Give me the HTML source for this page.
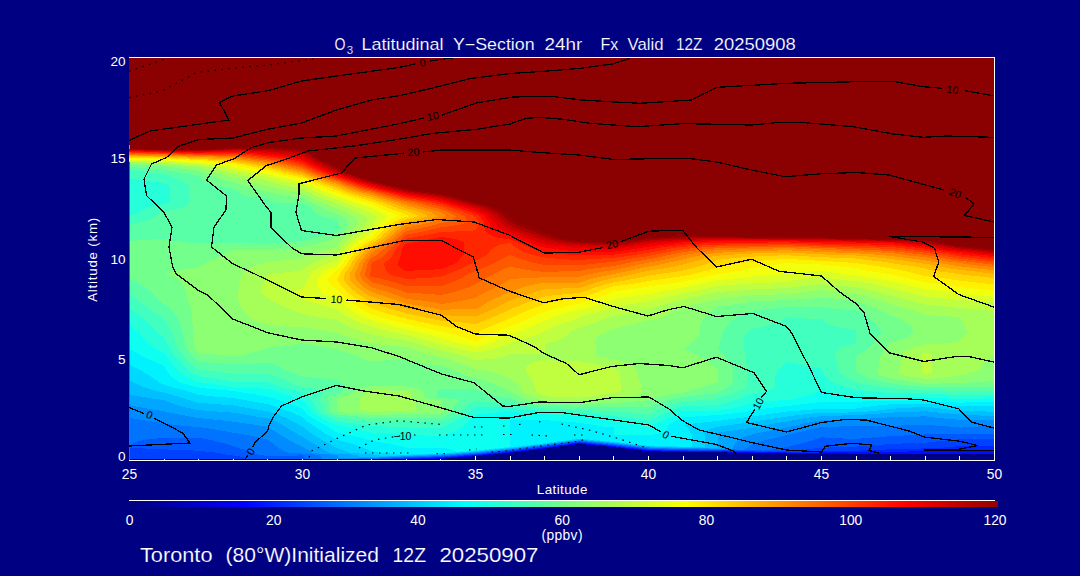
<!DOCTYPE html>
<html><head><meta charset="utf-8"><title>O3 Latitudinal Y-Section</title>
<style>
html,body{margin:0;padding:0;background:#000083;overflow:hidden}
svg{display:block}
text{font-family:"Liberation Sans",sans-serif;fill:#fff}
.t text.e{stroke:#000083;stroke-width:.15px}
</style></head><body>
<svg width="1080" height="576" viewBox="0 0 1080 576">
<defs><linearGradient id="cb" x1="0" x2="1" y1="0" y2="0"><stop offset="0.0000" stop-color="rgb(0,0,131)"/><stop offset="0.0069" stop-color="rgb(0,0,131)"/><stop offset="0.1335" stop-color="rgb(0,0,255)"/><stop offset="0.2601" stop-color="rgb(0,128,255)"/><stop offset="0.3867" stop-color="rgb(0,255,255)"/><stop offset="0.5132" stop-color="rgb(128,255,128)"/><stop offset="0.6398" stop-color="rgb(255,255,0)"/><stop offset="0.7664" stop-color="rgb(255,128,0)"/><stop offset="0.8930" stop-color="rgb(255,0,0)"/><stop offset="1.0000" stop-color="rgb(147,0,0)"/></linearGradient></defs>
<rect width="1080" height="576" fill="#000083"/>
<rect x="129" y="58" width="865" height="401" fill="#8b0000"/>
<g fill="none" stroke-width="1" shape-rendering="crispEdges"><path stroke="#000083" d="M575 444.5h11M568 445.5h28M560 446.5h47M553 447.5h63M545 448.5h80M537 449.5h97M529 450.5h113M521 451.5h140M513 452.5h215M503 453.5h284M493 454.5h501M483 455.5h511M472 456.5h522M458 457.5h536M445 458.5h549"/>
<path stroke="#0000f3" d="M579 443.5h1M572 444.5h3M586 444.5h4M564 445.5h4M596 445.5h5M557 446.5h3M607 446.5h4M549 447.5h4M616 447.5h4M542 448.5h3M625 448.5h4M534 449.5h3M634 449.5h4M525 450.5h4M642 450.5h4M517 451.5h4M661 451.5h20M509 452.5h4M728 452.5h22M498 453.5h5M787 453.5h61M488 454.5h5M478 455.5h5M465 456.5h7M452 457.5h6M436 458.5h9"/>
<path stroke="#000dff" d="M575 443.5h4M580 443.5h6M568 444.5h4M590 444.5h6M560 445.5h4M601 445.5h6M553 446.5h4M611 446.5h5M545 447.5h4M620 447.5h5M537 448.5h5M629 448.5h5M529 449.5h5M638 449.5h4M521 450.5h4M646 450.5h15M942 450.5h52M513 451.5h4M681 451.5h47M908 451.5h86M503 452.5h6M750 452.5h37M822 452.5h172M493 453.5h5M848 453.5h146M483 454.5h5M472 455.5h6M458 456.5h7M445 457.5h7M421 458.5h15"/>
<path stroke="#0026ff" d="M578 442.5h3M571 443.5h4M586 443.5h5M564 444.5h4M596 444.5h6M556 445.5h4M607 445.5h5M549 446.5h4M616 446.5h5M955 446.5h39M541 447.5h4M625 447.5h5M944 447.5h50M533 448.5h4M634 448.5h5M921 448.5h73M525 449.5h4M642 449.5h5M886 449.5h108M516 450.5h5M661 450.5h27M860 450.5h82M508 451.5h5M728 451.5h27M813 451.5h95M497 452.5h6M787 452.5h35M487 453.5h6M477 454.5h6M464 455.5h8M451 456.5h7M434 457.5h11M405 458.5h16"/>
<path stroke="#0040ff" d="M957 439.5h37M945 440.5h49M936 441.5h58M574 442.5h4M581 442.5h6M928 442.5h66M567 443.5h4M591 443.5h6M902 443.5h92M559 444.5h5M602 444.5h6M884 444.5h110M552 445.5h4M612 445.5h5M872 445.5h122M545 446.5h4M621 446.5h5M857 446.5h98M537 447.5h4M630 447.5h5M829 447.5h115M129 448.5h16M528 448.5h5M639 448.5h4M814 448.5h107M129 449.5h39M520 449.5h5M647 449.5h18M806 449.5h80M129 450.5h65M512 450.5h4M688 450.5h44M799 450.5h61M129 451.5h76M502 451.5h6M755 451.5h58M129 452.5h86M492 452.5h5M129 453.5h92M482 453.5h5M129 454.5h97M470 454.5h7M129 455.5h104M457 455.5h7M129 456.5h111M444 456.5h7M129 457.5h115M418 457.5h16M129 458.5h117M393 458.5h12"/>
<path stroke="#0059ff" d="M924 434.5h70M904 435.5h90M887 436.5h107M821 437.5h4M872 437.5h122M157 438.5h46M818 438.5h25M861 438.5h133M148 439.5h60M815 439.5h142M142 440.5h71M812 440.5h133M138 441.5h79M578 441.5h4M808 441.5h128M135 442.5h86M570 442.5h4M587 442.5h5M805 442.5h123M133 443.5h92M563 443.5h4M597 443.5h6M801 443.5h101M131 444.5h97M555 444.5h4M608 444.5h5M797 444.5h87M130 445.5h101M548 445.5h4M617 445.5h5M793 445.5h79M129 446.5h105M540 446.5h5M626 446.5h5M789 446.5h68M129 447.5h108M532 447.5h5M635 447.5h4M784 447.5h45M145 448.5h95M524 448.5h4M643 448.5h5M778 448.5h36M168 449.5h76M516 449.5h4M665 449.5h34M772 449.5h34M194 450.5h53M507 450.5h5M732 450.5h30M764 450.5h35M205 451.5h44M497 451.5h5M215 452.5h36M486 452.5h6M221 453.5h32M476 453.5h6M226 454.5h32M463 454.5h7M233 455.5h31M298 455.5h5M450 455.5h7M240 456.5h63M431 456.5h13M244 457.5h60M403 457.5h15M246 458.5h59M380 458.5h13"/>
<path stroke="#0073ff" d="M129 418.5h4M129 419.5h10M129 420.5h16M129 421.5h23M129 422.5h29M129 423.5h36M129 424.5h43M129 425.5h51M901 425.5h34M129 426.5h62M839 426.5h110M978 426.5h16M129 427.5h73M819 427.5h175M129 428.5h80M815 428.5h179M129 429.5h86M810 429.5h184M129 430.5h92M806 430.5h188M129 431.5h98M802 431.5h192M129 432.5h103M797 432.5h197M129 433.5h109M793 433.5h201M129 434.5h115M789 434.5h135M129 435.5h120M785 435.5h119M129 436.5h125M781 436.5h106M129 437.5h130M777 437.5h44M825 437.5h47M129 438.5h28M203 438.5h60M773 438.5h45M843 438.5h18M129 439.5h19M208 439.5h59M768 439.5h47M129 440.5h13M213 440.5h56M764 440.5h48M129 441.5h9M217 441.5h54M574 441.5h4M582 441.5h5M761 441.5h47M129 442.5h6M221 442.5h51M566 442.5h4M592 442.5h6M758 442.5h47M129 443.5h4M225 443.5h48M559 443.5h4M603 443.5h5M754 443.5h47M129 444.5h2M228 444.5h46M551 444.5h4M613 444.5h5M752 444.5h45M129 445.5h1M231 445.5h44M544 445.5h4M622 445.5h5M750 445.5h43M234 446.5h43M536 446.5h4M631 446.5h4M749 446.5h40M237 447.5h41M528 447.5h4M639 447.5h5M748 447.5h36M240 448.5h39M519 448.5h5M648 448.5h21M746 448.5h32M244 449.5h37M511 449.5h5M699 449.5h38M744 449.5h28M247 450.5h36M501 450.5h6M762 450.5h2M249 451.5h36M491 451.5h6M251 452.5h37M481 452.5h5M253 453.5h49M469 453.5h7M258 454.5h56M456 454.5h7M264 455.5h34M303 455.5h17M442 455.5h8M303 456.5h18M415 456.5h16M304 457.5h17M391 457.5h12M305 458.5h17M359 458.5h21"/>
<path stroke="#008cff" d="M129 405.5h2M129 406.5h7M129 407.5h13M129 408.5h18M129 409.5h24M129 410.5h30M129 411.5h36M129 412.5h40M129 413.5h45M129 414.5h50M129 415.5h56M129 416.5h61M920 416.5h7M129 417.5h66M887 417.5h48M133 418.5h70M870 418.5h74M139 419.5h74M840 419.5h116M145 420.5h78M820 420.5h174M152 421.5h80M814 421.5h180M158 422.5h81M809 422.5h185M165 423.5h81M804 423.5h190M172 424.5h81M800 424.5h194M180 425.5h79M796 425.5h105M935 425.5h59M191 426.5h75M791 426.5h48M949 426.5h29M202 427.5h67M786 427.5h33M209 428.5h61M781 428.5h34M215 429.5h57M776 429.5h34M221 430.5h53M771 430.5h35M227 431.5h48M766 431.5h36M232 432.5h45M761 432.5h36M238 433.5h40M756 433.5h37M244 434.5h36M752 434.5h37M249 435.5h32M748 435.5h37M254 436.5h29M745 436.5h36M259 437.5h26M743 437.5h34M263 438.5h23M741 438.5h32M267 439.5h21M739 439.5h29M269 440.5h21M577 440.5h6M738 440.5h26M271 441.5h21M570 441.5h4M587 441.5h6M737 441.5h24M272 442.5h22M562 442.5h4M598 442.5h6M736 442.5h22M273 443.5h22M555 443.5h4M608 443.5h6M735 443.5h19M274 444.5h23M547 444.5h4M618 444.5h5M735 444.5h17M275 445.5h25M540 445.5h4M627 445.5h4M734 445.5h16M277 446.5h25M531 446.5h5M635 446.5h5M733 446.5h16M278 447.5h26M523 447.5h5M644 447.5h6M733 447.5h15M279 448.5h26M515 448.5h4M669 448.5h40M732 448.5h14M281 449.5h26M506 449.5h5M737 449.5h7M283 450.5h26M496 450.5h5M285 451.5h26M485 451.5h6M288 452.5h24M475 452.5h6M302 453.5h17M462 453.5h7M314 454.5h17M449 454.5h7M320 455.5h17M429 455.5h13M321 456.5h17M401 456.5h14M321 457.5h18M378 457.5h13M322 458.5h37"/>
<path stroke="#00a6ff" d="M129 394.5h2M129 395.5h6M129 396.5h11M129 397.5h17M129 398.5h23M129 399.5h31M129 400.5h36M129 401.5h38M129 402.5h41M129 403.5h44M129 404.5h46M131 405.5h48M136 406.5h46M142 407.5h44M147 408.5h44M153 409.5h42M159 410.5h45M165 411.5h52M920 411.5h8M169 412.5h62M894 412.5h44M174 413.5h65M880 413.5h69M179 414.5h66M865 414.5h97M185 415.5h65M842 415.5h138M190 416.5h66M818 416.5h102M927 416.5h67M195 417.5h67M810 417.5h77M935 417.5h59M203 418.5h65M803 418.5h67M944 418.5h50M213 419.5h58M798 419.5h42M956 419.5h38M223 420.5h51M792 420.5h28M232 421.5h44M786 421.5h28M239 422.5h39M780 422.5h29M246 423.5h34M774 423.5h30M253 424.5h29M769 424.5h31M259 425.5h24M764 425.5h32M266 426.5h19M759 426.5h32M269 427.5h17M754 427.5h32M270 428.5h18M747 428.5h34M272 429.5h18M740 429.5h36M274 430.5h17M733 430.5h38M275 431.5h18M726 431.5h40M277 432.5h18M718 432.5h43M278 433.5h19M718 433.5h38M280 434.5h18M718 434.5h34M281 435.5h19M718 435.5h30M283 436.5h19M718 436.5h27M285 437.5h19M718 437.5h25M286 438.5h19M718 438.5h23M288 439.5h19M718 439.5h21M290 440.5h18M573 440.5h4M583 440.5h5M718 440.5h20M292 441.5h18M566 441.5h4M593 441.5h6M718 441.5h19M294 442.5h17M558 442.5h4M604 442.5h5M718 442.5h18M295 443.5h18M551 443.5h4M614 443.5h5M718 443.5h17M297 444.5h18M543 444.5h4M623 444.5h5M718 444.5h17M300 445.5h17M535 445.5h5M631 445.5h5M718 445.5h16M302 446.5h16M527 446.5h4M640 446.5h5M718 446.5h15M304 447.5h16M519 447.5h4M650 447.5h23M718 447.5h15M305 448.5h17M510 448.5h5M709 448.5h23M307 449.5h16M500 449.5h6M309 450.5h16M490 450.5h6M311 451.5h16M480 451.5h5M312 452.5h17M468 452.5h7M319 453.5h16M455 453.5h7M331 454.5h20M441 454.5h8M337 455.5h21M413 455.5h16M338 456.5h21M388 456.5h13M339 457.5h39"/>
<path stroke="#00bfff" d="M129 380.5h1M129 381.5h3M129 382.5h5M129 383.5h7M129 384.5h9M129 385.5h11M129 386.5h13M129 387.5h16M129 388.5h19M129 389.5h22M129 390.5h26M129 391.5h30M129 392.5h35M129 393.5h39M131 394.5h40M135 395.5h39M140 396.5h38M146 397.5h35M152 398.5h32M160 399.5h27M165 400.5h26M167 401.5h27M170 402.5h27M173 403.5h35M175 404.5h46M179 405.5h55M182 406.5h57M186 407.5h59M912 407.5h20M191 408.5h60M896 408.5h44M195 409.5h62M886 409.5h63M204 410.5h59M878 410.5h81M217 411.5h51M868 411.5h52M928 411.5h58M231 412.5h40M848 412.5h46M938 412.5h56M239 413.5h35M813 413.5h67M949 413.5h45M245 414.5h32M803 414.5h62M962 414.5h32M250 415.5h30M795 415.5h47M980 415.5h14M256 416.5h26M788 416.5h30M262 417.5h23M781 417.5h29M268 418.5h19M774 418.5h29M271 419.5h18M767 419.5h31M274 420.5h17M760 420.5h32M276 421.5h17M755 421.5h31M278 422.5h17M748 422.5h32M280 423.5h17M741 423.5h33M282 424.5h17M734 424.5h35M283 425.5h17M727 425.5h37M285 426.5h17M720 426.5h39M286 427.5h18M715 427.5h39M288 428.5h17M711 428.5h36M290 429.5h16M709 429.5h31M291 430.5h17M707 430.5h26M293 431.5h16M705 431.5h21M295 432.5h15M704 432.5h14M297 433.5h15M704 433.5h14M298 434.5h15M705 434.5h13M300 435.5h15M705 435.5h13M302 436.5h14M705 436.5h13M304 437.5h14M705 437.5h13M305 438.5h15M705 438.5h13M307 439.5h14M576 439.5h8M705 439.5h13M308 440.5h15M569 440.5h4M588 440.5h6M705 440.5h13M310 441.5h15M561 441.5h5M599 441.5h6M705 441.5h13M311 442.5h16M554 442.5h4M609 442.5h6M705 442.5h13M313 443.5h16M547 443.5h4M619 443.5h5M705 443.5h13M315 444.5h16M539 444.5h4M628 444.5h4M705 444.5h13M317 445.5h16M531 445.5h4M636 445.5h5M705 445.5h13M318 446.5h16M522 446.5h5M645 446.5h9M705 446.5h13M320 447.5h16M514 447.5h5M673 447.5h45M322 448.5h16M505 448.5h5M323 449.5h18M495 449.5h5M325 450.5h19M484 450.5h6M327 451.5h20M474 451.5h6M329 452.5h20M461 452.5h7M335 453.5h24M447 453.5h8M351 454.5h22M426 454.5h15M358 455.5h22M399 455.5h14M359 456.5h29"/>
<path stroke="#00d9ff" d="M129 365.5h2M129 366.5h4M129 367.5h6M129 368.5h8M129 369.5h10M129 370.5h12M129 371.5h14M129 372.5h15M129 373.5h17M129 374.5h19M129 375.5h20M129 376.5h22M129 377.5h23M129 378.5h25M129 379.5h26M130 380.5h27M132 381.5h26M134 382.5h25M136 383.5h25M138 384.5h26M140 385.5h27M142 386.5h28M145 387.5h28M148 388.5h29M151 389.5h30M155 390.5h30M159 391.5h29M164 392.5h28M168 393.5h27M171 394.5h26M174 395.5h30M178 396.5h36M181 397.5h45M184 398.5h52M187 399.5h55M191 400.5h56M194 401.5h59M197 402.5h61M208 403.5h56M221 404.5h48M888 404.5h49M234 405.5h38M878 405.5h72M239 406.5h36M870 406.5h124M245 407.5h33M862 407.5h50M932 407.5h62M251 408.5h30M856 408.5h40M940 408.5h54M257 409.5h27M812 409.5h74M949 409.5h45M263 410.5h23M800 410.5h78M959 410.5h35M268 411.5h21M787 411.5h81M986 411.5h8M271 412.5h21M780 412.5h68M274 413.5h20M773 413.5h40M277 414.5h19M766 414.5h37M280 415.5h19M759 415.5h36M282 416.5h19M752 416.5h36M285 417.5h18M744 417.5h37M287 418.5h17M736 418.5h38M289 419.5h16M728 419.5h39M291 420.5h15M721 420.5h39M293 421.5h14M712 421.5h43M295 422.5h14M703 422.5h45M297 423.5h13M694 423.5h47M299 424.5h13M687 424.5h47M300 425.5h13M685 425.5h42M302 426.5h13M686 426.5h34M304 427.5h12M688 427.5h27M305 428.5h13M688 428.5h23M306 429.5h13M689 429.5h20M308 430.5h13M689 430.5h18M309 431.5h13M690 431.5h15M310 432.5h14M690 432.5h14M312 433.5h13M691 433.5h13M313 434.5h14M691 434.5h14M315 435.5h14M692 435.5h13M316 436.5h15M692 436.5h13M318 437.5h14M692 437.5h13M320 438.5h14M692 438.5h13M321 439.5h15M572 439.5h4M584 439.5h5M692 439.5h13M323 440.5h16M565 440.5h4M594 440.5h6M692 440.5h13M325 441.5h18M557 441.5h4M605 441.5h5M692 441.5h13M327 442.5h20M550 442.5h4M615 442.5h5M692 442.5h13M329 443.5h22M543 443.5h4M624 443.5h4M692 443.5h13M331 444.5h23M534 444.5h5M632 444.5h5M692 444.5h13M333 445.5h24M526 445.5h5M641 445.5h5M692 445.5h13M334 446.5h26M518 446.5h4M654 446.5h23M692 446.5h13M336 447.5h27M509 447.5h5M338 448.5h27M499 448.5h6M341 449.5h27M489 449.5h6M344 450.5h26M479 450.5h5M347 451.5h26M467 451.5h7M349 452.5h29M453 452.5h8M359 453.5h31M439 453.5h8M373 454.5h26M410 454.5h16M380 455.5h19"/>
<path stroke="#00f2ff" d="M129 349.5h1M129 350.5h3M129 351.5h5M129 352.5h7M129 353.5h9M129 354.5h10M129 355.5h12M129 356.5h14M129 357.5h16M129 358.5h18M129 359.5h20M129 360.5h23M129 361.5h25M129 362.5h27M129 363.5h29M129 364.5h32M131 365.5h32M133 366.5h31M135 367.5h30M137 368.5h28M139 369.5h27M141 370.5h26M143 371.5h24M144 372.5h24M146 373.5h23M148 374.5h22M149 375.5h21M151 376.5h20M152 377.5h21M154 378.5h20M155 379.5h20M157 380.5h20M158 381.5h20M159 382.5h21M161 383.5h22M164 384.5h23M167 385.5h23M170 386.5h24M173 387.5h26M177 388.5h29M181 389.5h36M185 390.5h43M188 391.5h48M192 392.5h51M195 393.5h54M197 394.5h59M204 395.5h57M214 396.5h53M226 397.5h44M236 398.5h38M242 399.5h35M247 400.5h33M253 401.5h30M863 401.5h76M258 402.5h28M817 402.5h141M964 402.5h30M264 403.5h25M809 403.5h185M269 404.5h23M801 404.5h87M937 404.5h57M272 405.5h22M792 405.5h86M950 405.5h44M275 406.5h22M782 406.5h88M278 407.5h22M774 407.5h88M281 408.5h21M766 408.5h90M284 409.5h19M758 409.5h54M286 410.5h18M752 410.5h48M289 411.5h16M747 411.5h40M292 412.5h14M741 412.5h39M294 413.5h12M733 413.5h40M296 414.5h12M723 414.5h43M299 415.5h10M709 415.5h50M301 416.5h9M695 416.5h57M303 417.5h9M683 417.5h61M304 418.5h9M681 418.5h55M305 419.5h10M679 419.5h49M306 420.5h10M510 420.5h40M677 420.5h44M307 421.5h11M510 421.5h53M675 421.5h37M309 422.5h11M510 422.5h66M673 422.5h30M310 423.5h12M510 423.5h74M671 423.5h23M312 424.5h12M510 424.5h81M669 424.5h18M313 425.5h13M510 425.5h87M668 425.5h17M315 426.5h12M510 426.5h92M668 426.5h18M316 427.5h13M510 427.5h104M667 427.5h21M318 428.5h12M510 428.5h104M667 428.5h21M319 429.5h13M510 429.5h104M666 429.5h23M321 430.5h13M510 430.5h104M665 430.5h24M322 431.5h13M510 431.5h104M664 431.5h26M324 432.5h13M510 432.5h104M662 432.5h28M325 433.5h17M510 433.5h104M659 433.5h32M327 434.5h19M510 434.5h104M654 434.5h37M329 435.5h22M510 435.5h182M331 436.5h25M510 436.5h182M332 437.5h28M510 437.5h182M334 438.5h30M510 438.5h182M336 439.5h31M510 439.5h62M589 439.5h103M339 440.5h32M510 440.5h55M600 440.5h92M343 441.5h33M510 441.5h47M610 441.5h82M347 442.5h35M510 442.5h40M620 442.5h72M351 443.5h36M510 443.5h33M628 443.5h64M354 444.5h39M510 444.5h24M637 444.5h55M357 445.5h40M510 445.5h16M646 445.5h46M360 446.5h42M510 446.5h8M677 446.5h15M363 447.5h43M504 447.5h5M365 448.5h82M494 448.5h5M368 449.5h83M484 449.5h5M370 450.5h84M473 450.5h6M373 451.5h83M459 451.5h8M378 452.5h75M390 453.5h49M399 454.5h11"/>
<path stroke="#0dfff2" d="M129 324.5h1M129 325.5h2M129 326.5h3M129 327.5h3M129 328.5h4M129 329.5h5M129 330.5h6M129 331.5h7M129 332.5h8M129 333.5h9M129 334.5h10M129 335.5h11M129 336.5h12M129 337.5h13M129 338.5h14M129 339.5h15M129 340.5h16M129 341.5h17M129 342.5h18M129 343.5h19M129 344.5h20M129 345.5h22M129 346.5h23M129 347.5h25M129 348.5h26M130 349.5h27M132 350.5h27M134 351.5h27M136 352.5h27M138 353.5h27M139 354.5h26M141 355.5h25M143 356.5h24M145 357.5h22M147 358.5h21M149 359.5h20M152 360.5h18M154 361.5h16M156 362.5h15M158 363.5h14M161 364.5h12M163 365.5h11M164 366.5h10M165 367.5h10M165 368.5h11M166 369.5h11M167 370.5h11M167 371.5h12M168 372.5h12M169 373.5h12M170 374.5h12M170 375.5h14M171 376.5h15M173 377.5h14M174 378.5h16M175 379.5h17M177 380.5h17M178 381.5h19M180 382.5h22M183 383.5h26M187 384.5h28M190 385.5h31M194 386.5h33M199 387.5h34M206 388.5h55M217 389.5h53M228 390.5h45M820 390.5h3M236 391.5h40M817 391.5h9M243 392.5h36M815 392.5h14M249 393.5h33M813 393.5h21M256 394.5h29M811 394.5h29M261 395.5h27M808 395.5h42M267 396.5h24M804 396.5h59M270 397.5h24M800 397.5h129M274 398.5h24M795 398.5h154M983 398.5h11M277 399.5h24M790 399.5h204M280 400.5h23M778 400.5h216M283 401.5h21M765 401.5h98M939 401.5h55M286 402.5h19M756 402.5h61M958 402.5h6M289 403.5h17M750 403.5h59M292 404.5h15M747 404.5h54M294 405.5h13M743 405.5h49M297 406.5h11M740 406.5h42M300 407.5h9M736 407.5h38M302 408.5h7M731 408.5h35M303 409.5h7M725 409.5h33M304 410.5h7M718 410.5h34M305 411.5h6M506 411.5h6M682 411.5h65M306 412.5h6M497 412.5h21M680 412.5h61M306 413.5h7M488 413.5h42M678 413.5h55M308 414.5h7M480 414.5h73M676 414.5h47M309 415.5h8M475 415.5h94M674 415.5h35M310 416.5h9M474 416.5h108M672 416.5h23M312 417.5h9M473 417.5h115M670 417.5h13M313 418.5h9M472 418.5h122M667 418.5h14M315 419.5h9M471 419.5h129M665 419.5h14M316 420.5h10M470 420.5h40M550 420.5h57M663 420.5h14M318 421.5h10M468 421.5h42M563 421.5h51M661 421.5h14M320 422.5h10M467 422.5h43M576 422.5h45M658 422.5h15M322 423.5h11M466 423.5h44M584 423.5h43M656 423.5h15M324 424.5h12M465 424.5h45M591 424.5h42M654 424.5h15M326 425.5h13M464 425.5h46M597 425.5h42M653 425.5h15M327 426.5h16M463 426.5h47M602 426.5h42M651 426.5h17M329 427.5h20M462 427.5h48M614 427.5h34M649 427.5h18M330 428.5h23M460 428.5h50M614 428.5h53M332 429.5h26M459 429.5h51M614 429.5h52M334 430.5h28M457 430.5h53M614 430.5h51M335 431.5h32M455 431.5h55M614 431.5h50M337 432.5h35M452 432.5h58M614 432.5h48M342 433.5h44M450 433.5h60M614 433.5h45M346 434.5h53M447 434.5h63M614 434.5h40M351 435.5h74M443 435.5h67M356 436.5h154M360 437.5h150M364 438.5h146M367 439.5h143M371 440.5h139M376 441.5h134M382 442.5h128M387 443.5h123M393 444.5h117M397 445.5h113M402 446.5h108M406 447.5h98M447 448.5h47M451 449.5h33M454 450.5h19M456 451.5h3"/>
<path stroke="#26ffd9" d="M129 178.5h1M129 179.5h7M129 180.5h14M129 181.5h22M129 182.5h31M129 183.5h36M129 184.5h38M129 185.5h40M129 186.5h41M129 187.5h41M129 188.5h41M129 189.5h41M129 190.5h41M129 191.5h41M129 192.5h41M129 193.5h41M129 194.5h41M129 195.5h41M129 196.5h41M129 197.5h41M129 198.5h41M129 199.5h41M129 200.5h41M129 201.5h41M129 202.5h40M129 203.5h37M129 204.5h32M129 205.5h26M129 206.5h21M129 207.5h18M129 208.5h16M129 209.5h14M129 210.5h12M129 211.5h11M129 212.5h10M129 213.5h7M129 214.5h4M129 309.5h1M129 310.5h3M129 311.5h4M129 312.5h5M129 313.5h7M129 314.5h8M129 315.5h9M129 316.5h11M129 317.5h12M129 318.5h14M129 319.5h15M129 320.5h16M129 321.5h17M129 322.5h19M129 323.5h20M130 324.5h20M131 325.5h20M132 326.5h20M132 327.5h21M133 328.5h21M134 329.5h21M135 330.5h21M136 331.5h21M137 332.5h21M138 333.5h21M139 334.5h21M140 335.5h21M141 336.5h22M142 337.5h22M143 338.5h21M144 339.5h21M145 340.5h20M146 341.5h20M147 342.5h19M148 343.5h19M149 344.5h18M151 345.5h17M152 346.5h17M154 347.5h15M155 348.5h15M157 349.5h13M159 350.5h12M161 351.5h11M163 352.5h9M165 353.5h8M165 354.5h9M166 355.5h9M167 356.5h8M167 357.5h9M168 358.5h9M169 359.5h9M170 360.5h9M170 361.5h10M171 362.5h10M786 362.5h3M172 363.5h10M785 363.5h9M173 364.5h10M784 364.5h15M174 365.5h10M783 365.5h21M174 366.5h11M782 366.5h27M175 367.5h11M781 367.5h34M176 368.5h11M780 368.5h41M177 369.5h11M779 369.5h43M178 370.5h11M778 370.5h44M179 371.5h11M778 371.5h45M180 372.5h12M777 372.5h46M181 373.5h13M776 373.5h48M182 374.5h13M776 374.5h49M184 375.5h14M775 375.5h50M186 376.5h16M775 376.5h51M187 377.5h21M775 377.5h52M190 378.5h24M775 378.5h53M192 379.5h29M775 379.5h54M194 380.5h33M775 380.5h55M197 381.5h36M775 381.5h57M202 382.5h67M775 382.5h59M209 383.5h62M775 383.5h61M215 384.5h59M775 384.5h63M221 385.5h56M775 385.5h66M227 386.5h53M775 386.5h69M233 387.5h51M774 387.5h74M261 388.5h26M772 388.5h80M270 389.5h21M771 389.5h85M273 390.5h22M768 390.5h52M823 390.5h40M276 391.5h22M764 391.5h53M826 391.5h46M279 392.5h23M759 392.5h56M829 392.5h54M282 393.5h23M752 393.5h61M834 393.5h94M285 394.5h21M750 394.5h61M840 394.5h107M288 395.5h20M748 395.5h60M850 395.5h144M291 396.5h17M745 396.5h59M863 396.5h131M294 397.5h15M743 397.5h57M929 397.5h65M298 398.5h12M740 398.5h55M949 398.5h34M301 399.5h10M736 399.5h54M303 400.5h9M733 400.5h45M304 401.5h8M730 401.5h35M305 402.5h8M727 402.5h29M306 403.5h8M723 403.5h27M307 404.5h7M720 404.5h27M307 405.5h8M705 405.5h38M308 406.5h7M681 406.5h59M309 407.5h7M475 407.5h36M678 407.5h58M309 408.5h7M473 408.5h46M676 408.5h55M310 409.5h7M472 409.5h55M673 409.5h52M311 410.5h6M471 410.5h66M671 410.5h47M311 411.5h7M470 411.5h36M512 411.5h38M669 411.5h13M312 412.5h7M469 412.5h28M518 412.5h52M667 412.5h13M313 413.5h7M468 413.5h20M530 413.5h57M664 413.5h14M315 414.5h7M467 414.5h13M553 414.5h47M662 414.5h14M317 415.5h8M465 415.5h10M569 415.5h41M660 415.5h14M319 416.5h8M464 416.5h10M582 416.5h36M658 416.5h14M321 417.5h8M462 417.5h11M588 417.5h39M656 417.5h14M322 418.5h9M460 418.5h12M594 418.5h40M654 418.5h13M324 419.5h10M459 419.5h12M600 419.5h41M651 419.5h14M326 420.5h10M457 420.5h13M607 420.5h41M649 420.5h14M328 421.5h13M454 421.5h14M614 421.5h47M330 422.5h18M451 422.5h16M621 422.5h37M333 423.5h22M450 423.5h16M627 423.5h29M336 424.5h26M448 424.5h17M633 424.5h21M339 425.5h29M446 425.5h18M639 425.5h14M343 426.5h44M443 426.5h20M644 426.5h7M349 427.5h57M441 427.5h21M648 427.5h1M353 428.5h107M358 429.5h101M362 430.5h95M367 431.5h88M372 432.5h80M386 433.5h64M399 434.5h48M425 435.5h18"/>
<path stroke="#40ffbf" d="M129 170.5h6M129 171.5h14M129 172.5h20M129 173.5h29M129 174.5h37M129 175.5h40M129 176.5h43M129 177.5h45M130 178.5h47M136 179.5h43M143 180.5h38M151 181.5h32M160 182.5h24M165 183.5h21M167 184.5h20M169 185.5h20M170 186.5h19M170 187.5h19M170 188.5h19M170 189.5h19M170 190.5h19M170 191.5h19M170 192.5h19M170 193.5h19M170 194.5h19M170 195.5h19M170 196.5h19M170 197.5h19M170 198.5h19M170 199.5h19M170 200.5h19M170 201.5h19M169 202.5h20M166 203.5h22M161 204.5h26M155 205.5h30M150 206.5h34M147 207.5h35M145 208.5h34M143 209.5h31M141 210.5h27M140 211.5h22M139 212.5h21M136 213.5h23M133 214.5h25M129 215.5h28M129 216.5h27M129 217.5h25M129 218.5h23M129 219.5h20M129 220.5h16M129 221.5h14M129 222.5h11M129 223.5h7M129 224.5h3M129 294.5h1M129 295.5h3M129 296.5h4M129 297.5h6M129 298.5h7M129 299.5h8M129 300.5h9M129 301.5h11M129 302.5h12M129 303.5h14M129 304.5h15M129 305.5h16M129 306.5h18M129 307.5h19M129 308.5h21M130 309.5h21M132 310.5h20M133 311.5h21M134 312.5h21M136 313.5h20M137 314.5h21M138 315.5h21M140 316.5h21M141 317.5h21M786 317.5h6M143 318.5h20M784 318.5h20M144 319.5h20M782 319.5h40M145 320.5h20M781 320.5h42M146 321.5h20M779 321.5h45M148 322.5h19M776 322.5h50M149 323.5h18M774 323.5h53M150 324.5h18M771 324.5h59M151 325.5h17M767 325.5h66M152 326.5h17M764 326.5h72M153 327.5h16M759 327.5h83M154 328.5h16M753 328.5h97M155 329.5h15M751 329.5h105M156 330.5h15M750 330.5h106M157 331.5h14M749 331.5h107M158 332.5h14M748 332.5h108M159 333.5h13M747 333.5h109M160 334.5h13M746 334.5h110M161 335.5h12M745 335.5h111M163 336.5h11M745 336.5h111M164 337.5h10M745 337.5h111M164 338.5h10M744 338.5h112M165 339.5h10M744 339.5h112M165 340.5h10M744 340.5h112M166 341.5h9M744 341.5h112M166 342.5h10M744 342.5h112M167 343.5h9M744 343.5h112M167 344.5h9M744 344.5h108M168 345.5h9M744 345.5h103M169 346.5h8M744 346.5h99M169 347.5h9M744 347.5h97M170 348.5h8M744 348.5h96M170 349.5h9M744 349.5h94M171 350.5h8M744 350.5h93M172 351.5h8M744 351.5h93M172 352.5h9M745 352.5h91M173 353.5h9M745 353.5h91M174 354.5h9M745 354.5h90M175 355.5h8M745 355.5h90M175 356.5h9M746 356.5h89M176 357.5h9M746 357.5h89M177 358.5h9M746 358.5h90M178 359.5h9M746 359.5h90M179 360.5h9M746 360.5h90M180 361.5h9M746 361.5h91M181 362.5h9M747 362.5h39M789 362.5h48M182 363.5h9M747 363.5h38M794 363.5h43M183 364.5h9M747 364.5h37M799 364.5h39M184 365.5h10M747 365.5h36M804 365.5h34M185 366.5h10M747 366.5h35M809 366.5h29M186 367.5h10M747 367.5h34M815 367.5h23M187 368.5h10M747 368.5h33M821 368.5h18M188 369.5h10M747 369.5h32M822 369.5h17M189 370.5h18M747 370.5h31M822 370.5h17M190 371.5h26M747 371.5h31M823 371.5h16M192 372.5h32M747 372.5h30M823 372.5h17M194 373.5h37M747 373.5h29M824 373.5h17M195 374.5h75M747 374.5h29M825 374.5h18M198 375.5h75M747 375.5h28M825 375.5h19M202 376.5h74M747 376.5h28M826 376.5h19M208 377.5h71M747 377.5h28M827 377.5h20M214 378.5h68M747 378.5h28M828 378.5h21M221 379.5h64M747 379.5h28M829 379.5h22M227 380.5h60M747 380.5h28M830 380.5h23M233 381.5h56M747 381.5h28M832 381.5h23M269 382.5h22M747 382.5h28M834 382.5h24M271 383.5h22M747 383.5h28M836 383.5h26M274 384.5h21M747 384.5h28M838 384.5h29M277 385.5h20M747 385.5h28M841 385.5h31M280 386.5h21M746 386.5h29M844 386.5h35M284 387.5h23M744 387.5h30M848 387.5h38M287 388.5h26M743 388.5h29M852 388.5h44M291 389.5h26M741 389.5h30M856 389.5h57M295 390.5h25M739 390.5h29M863 390.5h78M298 391.5h24M738 391.5h26M872 391.5h122M302 392.5h21M736 392.5h23M883 392.5h111M305 393.5h18M733 393.5h19M928 393.5h66M306 394.5h15M730 394.5h20M947 394.5h47M308 395.5h12M727 395.5h21M308 396.5h11M724 396.5h21M309 397.5h10M720 397.5h23M310 398.5h9M715 398.5h25M311 399.5h9M705 399.5h31M312 400.5h8M695 400.5h38M312 401.5h9M474 401.5h7M683 401.5h47M313 402.5h8M472 402.5h18M679 402.5h48M314 403.5h7M470 403.5h36M675 403.5h48M314 404.5h8M468 404.5h46M672 404.5h48M315 405.5h7M467 405.5h54M669 405.5h36M315 406.5h8M465 406.5h63M666 406.5h15M316 407.5h7M464 407.5h11M511 407.5h25M663 407.5h15M316 408.5h7M463 408.5h10M519 408.5h27M661 408.5h15M317 409.5h7M462 409.5h10M527 409.5h42M659 409.5h14M317 410.5h7M462 410.5h9M537 410.5h57M657 410.5h14M318 411.5h6M461 411.5h9M550 411.5h64M655 411.5h14M319 412.5h6M461 412.5h8M570 412.5h58M653 412.5h14M320 413.5h7M459 413.5h9M587 413.5h51M651 413.5h13M322 414.5h8M458 414.5h9M600 414.5h45M649 414.5h13M325 415.5h7M456 415.5h9M610 415.5h50M327 416.5h8M454 416.5h10M618 416.5h40M329 417.5h11M451 417.5h11M627 417.5h29M331 418.5h17M449 418.5h11M634 418.5h20M334 419.5h22M447 419.5h12M641 419.5h10M336 420.5h29M444 420.5h13M648 420.5h1M341 421.5h31M428 421.5h26M348 422.5h103M355 423.5h95M362 424.5h86M368 425.5h78M387 426.5h56M406 427.5h35"/>
<path stroke="#59ffa6" d="M129 167.5h7M129 168.5h20M129 169.5h31M135 170.5h33M143 171.5h31M149 172.5h31M158 173.5h28M166 174.5h25M169 175.5h27M172 176.5h27M174 177.5h26M177 178.5h24M179 179.5h23M181 180.5h23M183 181.5h23M184 182.5h23M186 183.5h24M187 184.5h25M189 185.5h26M189 186.5h30M189 187.5h34M189 188.5h41M189 189.5h46M189 190.5h48M189 191.5h49M189 192.5h50M189 193.5h51M189 194.5h53M189 195.5h55M189 196.5h59M189 197.5h68M189 198.5h79M189 199.5h80M189 200.5h81M189 201.5h83M189 202.5h88M188 203.5h110M187 204.5h118M185 205.5h122M184 206.5h125M182 207.5h129M179 208.5h132M174 209.5h138M168 210.5h145M162 211.5h152M160 212.5h155M159 213.5h158M158 214.5h160M157 215.5h163M156 216.5h166M154 217.5h171M152 218.5h177M149 219.5h185M145 220.5h192M143 221.5h195M140 222.5h198M136 223.5h202M132 224.5h206M129 225.5h210M129 226.5h210M129 227.5h210M129 228.5h210M129 229.5h210M129 230.5h210M129 231.5h208M129 232.5h204M129 233.5h199M129 234.5h196M129 235.5h193M129 236.5h189M129 237.5h186M129 238.5h183M129 239.5h24M167 239.5h141M129 240.5h7M172 240.5h132M179 241.5h118M187 242.5h98M255 243.5h19M129 279.5h2M129 280.5h4M129 281.5h6M129 282.5h9M129 283.5h10M129 284.5h12M129 285.5h14M129 286.5h15M129 287.5h17M129 288.5h18M129 289.5h19M129 290.5h20M129 291.5h22M129 292.5h23M129 293.5h24M130 294.5h24M132 295.5h22M133 296.5h22M135 297.5h21M136 298.5h21M137 299.5h21M138 300.5h21M140 301.5h21M141 302.5h21M143 303.5h20M144 304.5h21M145 305.5h21M147 306.5h21M148 307.5h21M783 307.5h43M150 308.5h20M774 308.5h60M151 309.5h20M765 309.5h80M152 310.5h20M756 310.5h100M154 311.5h19M750 311.5h109M155 312.5h19M746 312.5h115M156 313.5h19M743 313.5h119M158 314.5h17M741 314.5h123M159 315.5h17M739 315.5h126M161 316.5h16M738 316.5h129M162 317.5h15M736 317.5h50M792 317.5h76M163 318.5h15M735 318.5h49M804 318.5h65M164 319.5h14M734 319.5h48M822 319.5h49M165 320.5h14M732 320.5h49M823 320.5h49M166 321.5h13M731 321.5h48M824 321.5h49M167 322.5h12M730 322.5h46M826 322.5h48M167 323.5h13M729 323.5h45M827 323.5h48M168 324.5h12M728 324.5h43M830 324.5h46M168 325.5h12M727 325.5h40M833 325.5h44M169 326.5h12M726 326.5h38M836 326.5h42M169 327.5h12M726 327.5h33M842 327.5h37M170 328.5h11M725 328.5h28M850 328.5h30M170 329.5h12M725 329.5h26M856 329.5h25M171 330.5h11M724 330.5h26M856 330.5h25M171 331.5h11M724 331.5h25M856 331.5h26M172 332.5h11M723 332.5h25M856 332.5h25M172 333.5h11M723 333.5h24M856 333.5h24M173 334.5h10M722 334.5h24M856 334.5h23M173 335.5h10M722 335.5h23M856 335.5h22M174 336.5h10M722 336.5h23M856 336.5h21M174 337.5h10M721 337.5h24M856 337.5h21M174 338.5h10M721 338.5h23M856 338.5h20M175 339.5h9M721 339.5h23M856 339.5h19M175 340.5h9M720 340.5h24M856 340.5h19M175 341.5h10M720 341.5h24M856 341.5h18M176 342.5h9M720 342.5h24M856 342.5h18M176 343.5h9M720 343.5h24M856 343.5h17M176 344.5h9M719 344.5h25M852 344.5h20M177 345.5h9M719 345.5h25M847 345.5h24M177 346.5h9M719 346.5h25M843 346.5h27M178 347.5h8M718 347.5h26M841 347.5h28M178 348.5h8M718 348.5h26M840 348.5h27M179 349.5h8M718 349.5h26M838 349.5h28M179 350.5h9M720 350.5h24M837 350.5h28M180 351.5h9M721 351.5h23M837 351.5h27M181 352.5h8M722 352.5h23M836 352.5h26M182 353.5h8M723 353.5h22M836 353.5h25M183 354.5h8M724 354.5h21M835 354.5h24M183 355.5h9M724 355.5h21M835 355.5h22M184 356.5h9M725 356.5h21M835 356.5h21M185 357.5h9M726 357.5h20M835 357.5h21M186 358.5h9M727 358.5h19M836 358.5h20M187 359.5h9M727 359.5h19M836 359.5h20M188 360.5h9M728 360.5h18M836 360.5h20M189 361.5h10M729 361.5h17M837 361.5h19M190 362.5h19M729 362.5h18M837 362.5h19M191 363.5h31M255 363.5h16M730 363.5h17M837 363.5h19M192 364.5h82M730 364.5h17M838 364.5h18M194 365.5h83M731 365.5h16M838 365.5h18M195 366.5h84M731 366.5h16M838 366.5h18M196 367.5h85M732 367.5h15M838 367.5h18M197 368.5h86M732 368.5h15M839 368.5h17M198 369.5h86M733 369.5h14M839 369.5h17M207 370.5h79M733 370.5h14M839 370.5h17M216 371.5h73M733 371.5h14M839 371.5h17M224 372.5h67M733 372.5h14M840 372.5h17M231 373.5h63M733 373.5h14M841 373.5h18M270 374.5h27M733 374.5h14M843 374.5h18M273 375.5h26M733 375.5h14M844 375.5h18M276 376.5h26M733 376.5h14M845 376.5h20M279 377.5h33M733 377.5h14M847 377.5h20M282 378.5h41M733 378.5h14M849 378.5h21M285 379.5h48M733 379.5h14M851 379.5h22M287 380.5h51M733 380.5h14M853 380.5h24M289 381.5h50M733 381.5h14M855 381.5h26M291 382.5h49M733 382.5h14M858 382.5h29M293 383.5h49M732 383.5h15M862 383.5h31M295 384.5h48M731 384.5h16M867 384.5h32M297 385.5h47M730 385.5h17M872 385.5h36M301 386.5h43M728 386.5h18M879 386.5h40M307 387.5h37M727 387.5h17M886 387.5h108M313 388.5h30M725 388.5h18M896 388.5h98M317 389.5h25M440 389.5h36M723 389.5h18M913 389.5h81M320 390.5h22M438 390.5h40M721 390.5h18M941 390.5h53M322 391.5h19M437 391.5h43M720 391.5h18M323 392.5h18M437 392.5h46M718 392.5h18M323 393.5h17M437 393.5h49M711 393.5h22M321 394.5h15M437 394.5h52M704 394.5h26M320 395.5h13M437 395.5h57M696 395.5h31M319 396.5h11M437 396.5h62M688 396.5h36M319 397.5h10M437 397.5h68M680 397.5h40M319 398.5h9M449 398.5h62M676 398.5h39M320 399.5h8M458 399.5h55M671 399.5h34M320 400.5h9M459 400.5h56M667 400.5h28M321 401.5h8M458 401.5h16M481 401.5h37M664 401.5h19M321 402.5h8M457 402.5h15M490 402.5h32M661 402.5h18M321 403.5h8M456 403.5h14M506 403.5h21M658 403.5h17M322 404.5h7M455 404.5h13M514 404.5h20M655 404.5h17M322 405.5h8M455 405.5h12M521 405.5h21M653 405.5h16M323 406.5h7M454 406.5h11M528 406.5h38M651 406.5h15M323 407.5h7M454 407.5h10M536 407.5h112M649 407.5h14M323 408.5h7M453 408.5h10M546 408.5h115M324 409.5h6M453 409.5h9M569 409.5h90M324 410.5h6M453 410.5h9M594 410.5h63M324 411.5h7M452 411.5h9M614 411.5h41M325 412.5h7M452 412.5h9M628 412.5h25M327 413.5h7M450 413.5h9M638 413.5h13M330 414.5h7M448 414.5h10M645 414.5h4M332 415.5h16M446 415.5h10M335 416.5h23M444 416.5h10M340 417.5h27M441 417.5h10M348 418.5h101M356 419.5h91M365 420.5h79M372 421.5h56"/>
<path stroke="#73ff8c" d="M129 164.5h4M129 165.5h20M129 166.5h38M136 167.5h38M149 168.5h33M160 169.5h29M168 170.5h27M174 171.5h26M180 172.5h22M186 173.5h20M191 174.5h18M196 175.5h16M199 176.5h16M200 177.5h17M201 178.5h19M202 179.5h22M204 180.5h23M206 181.5h25M207 182.5h27M210 183.5h27M212 184.5h28M215 185.5h29M219 186.5h28M223 187.5h28M230 188.5h25M235 189.5h23M237 190.5h25M238 191.5h28M239 192.5h31M240 193.5h35M242 194.5h38M244 195.5h41M248 196.5h43M257 197.5h40M268 198.5h35M269 199.5h36M270 200.5h37M272 201.5h37M277 202.5h35M298 203.5h16M305 204.5h11M307 205.5h11M309 206.5h12M311 207.5h11M311 208.5h13M312 209.5h14M313 210.5h15M314 211.5h16M315 212.5h18M317 213.5h19M318 214.5h20M320 215.5h20M322 216.5h20M325 217.5h19M329 218.5h16M334 219.5h13M337 220.5h10M338 221.5h9M338 222.5h9M338 223.5h10M338 224.5h10M339 225.5h8M339 226.5h8M339 227.5h8M339 228.5h8M339 229.5h8M339 230.5h7M337 231.5h7M333 232.5h10M328 233.5h14M325 234.5h15M322 235.5h17M318 236.5h20M315 237.5h21M312 238.5h22M153 239.5h14M308 239.5h23M136 240.5h36M304 240.5h24M129 241.5h50M297 241.5h29M129 242.5h58M285 242.5h37M129 243.5h126M274 243.5h45M129 244.5h186M129 245.5h181M129 246.5h176M129 247.5h170M129 248.5h162M129 249.5h148M129 250.5h103M129 251.5h101M129 252.5h99M129 253.5h97M129 254.5h94M129 255.5h92M129 256.5h90M129 257.5h88M129 258.5h86M129 259.5h84M129 260.5h82M129 261.5h80M129 262.5h78M129 263.5h77M129 264.5h75M129 265.5h73M129 266.5h71M129 267.5h68M129 268.5h61M129 269.5h55M129 270.5h50M129 271.5h45M129 272.5h41M129 273.5h37M129 274.5h38M129 275.5h41M129 276.5h44M129 277.5h46M129 278.5h48M131 279.5h48M133 280.5h47M135 281.5h46M138 282.5h44M139 283.5h43M141 284.5h42M143 285.5h40M144 286.5h40M146 287.5h38M147 288.5h38M148 289.5h37M149 290.5h36M151 291.5h35M152 292.5h34M153 293.5h33M154 294.5h32M154 295.5h33M155 296.5h32M156 297.5h31M157 298.5h30M811 298.5h20M158 299.5h29M796 299.5h45M159 300.5h29M775 300.5h75M161 301.5h27M752 301.5h105M162 302.5h27M747 302.5h113M163 303.5h26M740 303.5h123M165 304.5h25M733 304.5h133M166 305.5h24M726 305.5h142M168 306.5h22M718 306.5h153M169 307.5h21M716 307.5h67M826 307.5h47M170 308.5h21M715 308.5h59M834 308.5h42M171 309.5h20M713 309.5h52M845 309.5h33M172 310.5h19M712 310.5h44M856 310.5h25M173 311.5h18M710 311.5h40M859 311.5h24M174 312.5h17M709 312.5h37M861 312.5h24M175 313.5h16M708 313.5h35M862 313.5h25M175 314.5h17M707 314.5h34M864 314.5h25M176 315.5h16M706 315.5h33M865 315.5h27M177 316.5h15M705 316.5h33M867 316.5h28M177 317.5h15M704 317.5h32M868 317.5h29M178 318.5h14M704 318.5h31M869 318.5h30M178 319.5h14M703 319.5h31M871 319.5h29M179 320.5h13M702 320.5h30M872 320.5h30M179 321.5h13M702 321.5h29M873 321.5h31M179 322.5h13M701 322.5h29M874 322.5h32M180 323.5h12M701 323.5h28M875 323.5h33M180 324.5h13M700 324.5h28M876 324.5h34M180 325.5h13M700 325.5h27M877 325.5h34M181 326.5h12M700 326.5h26M878 326.5h33M181 327.5h12M700 327.5h26M879 327.5h33M181 328.5h12M700 328.5h25M880 328.5h32M182 329.5h11M699 329.5h26M881 329.5h32M182 330.5h11M699 330.5h25M881 330.5h32M182 331.5h11M699 331.5h25M882 331.5h32M183 332.5h10M699 332.5h24M881 332.5h32M183 333.5h10M699 333.5h24M880 333.5h32M183 334.5h10M699 334.5h23M879 334.5h32M183 335.5h11M699 335.5h23M878 335.5h32M184 336.5h10M698 336.5h24M877 336.5h32M184 337.5h10M697 337.5h24M877 337.5h31M184 338.5h10M696 338.5h25M876 338.5h30M184 339.5h10M695 339.5h26M875 339.5h28M184 340.5h10M695 340.5h25M875 340.5h24M185 341.5h9M693 341.5h27M874 341.5h21M185 342.5h9M692 342.5h28M874 342.5h18M185 343.5h9M300 343.5h5M691 343.5h29M873 343.5h17M185 344.5h9M293 344.5h17M690 344.5h29M872 344.5h17M186 345.5h8M285 345.5h31M689 345.5h30M871 345.5h17M186 346.5h8M278 346.5h44M687 346.5h32M870 346.5h17M186 347.5h8M270 347.5h57M686 347.5h32M869 347.5h17M186 348.5h9M266 348.5h66M684 348.5h34M867 348.5h18M187 349.5h8M262 349.5h75M684 349.5h34M866 349.5h18M188 350.5h8M259 350.5h81M687 350.5h33M865 350.5h19M189 351.5h8M255 351.5h89M690 351.5h31M864 351.5h19M189 352.5h9M252 352.5h95M692 352.5h30M862 352.5h21M190 353.5h12M248 353.5h102M694 353.5h29M861 353.5h21M191 354.5h24M243 354.5h110M696 354.5h28M859 354.5h23M192 355.5h33M238 355.5h118M698 355.5h26M857 355.5h24M193 356.5h165M700 356.5h25M856 356.5h24M194 357.5h166M702 357.5h24M856 357.5h24M195 358.5h167M704 358.5h23M856 358.5h24M196 359.5h168M397 359.5h11M705 359.5h22M856 359.5h24M197 360.5h171M382 360.5h30M707 360.5h21M856 360.5h23M199 361.5h217M708 361.5h21M856 361.5h23M209 362.5h210M709 362.5h20M856 362.5h23M222 363.5h33M271 363.5h152M710 363.5h20M856 363.5h23M274 364.5h157M711 364.5h19M856 364.5h23M277 365.5h165M713 365.5h18M856 365.5h22M279 366.5h165M714 366.5h17M856 366.5h22M281 367.5h166M715 367.5h17M856 367.5h22M283 368.5h166M717 368.5h15M856 368.5h22M284 369.5h168M718 369.5h15M856 369.5h22M286 370.5h169M718 370.5h15M856 370.5h22M289 371.5h169M718 371.5h15M856 371.5h21M291 372.5h168M718 372.5h15M857 372.5h21M294 373.5h167M718 373.5h15M859 373.5h19M297 374.5h166M718 374.5h15M861 374.5h18M299 375.5h166M718 375.5h15M862 375.5h18M302 376.5h167M718 376.5h15M865 376.5h19M312 377.5h161M718 377.5h15M867 377.5h20M323 378.5h154M718 378.5h15M870 378.5h22M333 379.5h148M718 379.5h15M873 379.5h25M338 380.5h146M718 380.5h15M877 380.5h27M339 381.5h148M718 381.5h15M881 381.5h29M985 381.5h9M340 382.5h150M718 382.5h15M887 382.5h29M969 382.5h25M342 383.5h151M714 383.5h18M893 383.5h29M939 383.5h55M343 384.5h152M711 384.5h20M899 384.5h95M344 385.5h153M707 385.5h23M908 385.5h86M344 386.5h25M406 386.5h93M704 386.5h24M919 386.5h75M344 387.5h20M413 387.5h88M700 387.5h27M343 388.5h18M417 388.5h86M697 388.5h28M342 389.5h16M420 389.5h20M476 389.5h30M693 389.5h30M342 390.5h14M421 390.5h17M478 390.5h30M690 390.5h31M341 391.5h13M423 391.5h14M480 391.5h30M687 391.5h33M341 392.5h12M424 392.5h13M483 392.5h29M683 392.5h35M340 393.5h12M424 393.5h13M486 393.5h28M674 393.5h37M336 394.5h14M424 394.5h13M489 394.5h27M669 394.5h35M333 395.5h15M424 395.5h13M494 395.5h24M665 395.5h31M330 396.5h14M424 396.5h13M499 396.5h21M660 396.5h28M329 397.5h11M424 397.5h13M505 397.5h17M656 397.5h24M328 398.5h9M428 398.5h21M511 398.5h13M653 398.5h23M328 399.5h9M435 399.5h23M513 399.5h13M650 399.5h21M329 400.5h8M441 400.5h18M515 400.5h14M645 400.5h22M329 401.5h8M442 401.5h16M518 401.5h15M635 401.5h29M329 402.5h8M442 402.5h15M522 402.5h17M621 402.5h40M329 403.5h8M442 403.5h14M527 403.5h28M598 403.5h60M329 404.5h8M442 404.5h13M534 404.5h121M330 405.5h7M443 405.5h12M542 405.5h111M330 406.5h7M443 406.5h11M566 406.5h85M330 407.5h7M443 407.5h11M648 407.5h1M330 408.5h7M443 408.5h10M330 409.5h7M443 409.5h10M330 410.5h7M443 410.5h10M331 411.5h6M444 411.5h8M332 412.5h12M444 412.5h8M334 413.5h23M441 413.5h9M337 414.5h30M390 414.5h58M348 415.5h98M358 416.5h86M367 417.5h74"/>
<path stroke="#8cff73" d="M129 163.5h11M133 164.5h29M149 165.5h27M167 166.5h20M174 167.5h25M182 168.5h22M189 169.5h17M195 170.5h15M200 171.5h13M202 172.5h14M206 173.5h14M209 174.5h14M212 175.5h15M215 176.5h15M217 177.5h17M220 178.5h19M224 179.5h20M227 180.5h21M231 181.5h20M234 182.5h20M237 183.5h21M240 184.5h21M244 185.5h21M247 186.5h22M251 187.5h23M255 188.5h23M258 189.5h24M262 190.5h25M266 191.5h26M270 192.5h27M275 193.5h28M280 194.5h25M285 195.5h22M291 196.5h18M297 197.5h14M303 198.5h10M305 199.5h10M307 200.5h11M309 201.5h11M312 202.5h11M314 203.5h11M316 204.5h12M318 205.5h12M321 206.5h11M322 207.5h12M324 208.5h13M326 209.5h13M328 210.5h14M330 211.5h14M333 212.5h13M336 213.5h12M338 214.5h12M340 215.5h12M342 216.5h12M344 217.5h11M345 218.5h12M347 219.5h10M347 220.5h10M347 221.5h10M347 222.5h10M348 223.5h9M348 224.5h9M347 225.5h9M347 226.5h9M347 227.5h8M347 228.5h7M347 229.5h7M346 230.5h7M344 231.5h7M343 232.5h7M342 233.5h7M340 234.5h7M339 235.5h7M338 236.5h7M336 237.5h8M334 238.5h9M331 239.5h11M328 240.5h13M326 241.5h14M322 242.5h18M319 243.5h20M315 244.5h23M310 245.5h28M305 246.5h32M299 247.5h36M291 248.5h40M277 249.5h51M232 250.5h92M230 251.5h90M228 252.5h89M226 253.5h88M223 254.5h88M221 255.5h88M219 256.5h87M217 257.5h87M215 258.5h87M213 259.5h79M211 260.5h71M209 261.5h64M207 262.5h59M206 263.5h56M204 264.5h55M202 265.5h54M200 266.5h54M197 267.5h55M190 268.5h60M184 269.5h64M179 270.5h67M174 271.5h71M170 272.5h74M166 273.5h77M167 274.5h75M170 275.5h72M173 276.5h68M175 277.5h66M177 278.5h64M179 279.5h62M180 280.5h60M181 281.5h59M182 282.5h58M182 283.5h58M183 284.5h57M183 285.5h56M184 286.5h55M184 287.5h55M185 288.5h54M185 289.5h54M185 290.5h53M817 290.5h9M186 291.5h52M809 291.5h27M186 292.5h52M800 292.5h45M186 293.5h52M791 293.5h63M186 294.5h52M775 294.5h85M187 295.5h51M752 295.5h112M187 296.5h51M741 296.5h127M187 297.5h51M731 297.5h140M187 298.5h51M722 298.5h89M831 298.5h44M187 299.5h52M716 299.5h80M841 299.5h37M188 300.5h51M711 300.5h64M850 300.5h31M188 301.5h51M706 301.5h46M857 301.5h27M189 302.5h50M702 302.5h45M860 302.5h27M189 303.5h51M698 303.5h42M863 303.5h27M190 304.5h50M694 304.5h39M866 304.5h26M190 305.5h51M691 305.5h35M868 305.5h28M190 306.5h51M687 306.5h31M871 306.5h28M190 307.5h52M684 307.5h32M873 307.5h29M191 308.5h51M681 308.5h34M876 308.5h30M191 309.5h52M678 309.5h35M878 309.5h32M191 310.5h53M674 310.5h38M881 310.5h33M191 311.5h54M672 311.5h38M883 311.5h34M191 312.5h54M671 312.5h38M885 312.5h34M191 313.5h55M669 313.5h39M887 313.5h35M192 314.5h55M668 314.5h39M889 314.5h36M192 315.5h56M667 315.5h39M892 315.5h42M192 316.5h57M664 316.5h41M895 316.5h55M192 317.5h58M662 317.5h42M897 317.5h63M192 318.5h60M658 318.5h46M899 318.5h62M192 319.5h61M654 319.5h49M900 319.5h61M192 320.5h63M647 320.5h55M902 320.5h60M192 321.5h66M643 321.5h59M904 321.5h58M192 322.5h69M639 322.5h62M906 322.5h57M192 323.5h73M635 323.5h66M908 323.5h55M193 324.5h77M631 324.5h69M910 324.5h54M193 325.5h83M627 325.5h73M911 325.5h53M193 326.5h95M623 326.5h77M911 326.5h54M193 327.5h112M619 327.5h81M912 327.5h53M193 328.5h118M616 328.5h84M912 328.5h54M193 329.5h125M613 329.5h86M913 329.5h53M193 330.5h131M610 330.5h89M913 330.5h54M193 331.5h138M607 331.5h92M914 331.5h53M193 332.5h144M605 332.5h94M913 332.5h54M193 333.5h147M603 333.5h96M912 333.5h54M193 334.5h149M601 334.5h98M911 334.5h54M194 335.5h151M600 335.5h99M910 335.5h54M194 336.5h154M598 336.5h100M909 336.5h55M194 337.5h156M597 337.5h100M908 337.5h55M194 338.5h159M596 338.5h100M906 338.5h55M194 339.5h162M595 339.5h100M903 339.5h57M194 340.5h165M595 340.5h100M899 340.5h60M194 341.5h169M595 341.5h98M895 341.5h61M194 342.5h173M595 342.5h97M892 342.5h61M194 343.5h106M305 343.5h68M595 343.5h96M890 343.5h55M194 344.5h99M310 344.5h70M595 344.5h95M889 344.5h36M194 345.5h91M316 345.5h73M596 345.5h93M888 345.5h33M194 346.5h84M322 346.5h79M596 346.5h91M887 346.5h30M194 347.5h76M327 347.5h81M596 347.5h90M886 347.5h28M195 348.5h71M332 348.5h80M596 348.5h88M885 348.5h26M195 349.5h67M337 349.5h77M596 349.5h88M884 349.5h25M196 350.5h63M340 350.5h77M596 350.5h91M884 350.5h23M197 351.5h58M344 351.5h75M596 351.5h94M883 351.5h22M198 352.5h54M347 352.5h75M596 352.5h96M883 352.5h21M202 353.5h46M350 353.5h75M596 353.5h98M882 353.5h21M215 354.5h28M353 354.5h76M596 354.5h100M882 354.5h20M225 355.5h13M356 355.5h77M596 355.5h102M881 355.5h21M358 356.5h80M597 356.5h103M880 356.5h22M992 356.5h2M360 357.5h83M603 357.5h99M880 357.5h22M991 357.5h3M362 358.5h85M608 358.5h96M880 358.5h22M989 358.5h5M364 359.5h33M408 359.5h42M614 359.5h91M880 359.5h22M988 359.5h6M368 360.5h14M412 360.5h41M619 360.5h88M879 360.5h22M987 360.5h7M416 361.5h39M623 361.5h85M879 361.5h22M986 361.5h8M419 362.5h39M625 362.5h84M879 362.5h22M985 362.5h9M423 363.5h38M628 363.5h82M879 363.5h22M984 363.5h10M431 364.5h32M630 364.5h81M879 364.5h22M983 364.5h11M442 365.5h24M631 365.5h82M878 365.5h22M983 365.5h11M444 366.5h25M633 366.5h81M878 366.5h22M982 366.5h12M447 367.5h24M634 367.5h81M878 367.5h22M981 367.5h13M449 368.5h25M635 368.5h82M878 368.5h22M981 368.5h13M452 369.5h27M636 369.5h82M878 369.5h22M980 369.5h14M455 370.5h30M636 370.5h82M878 370.5h21M978 370.5h16M458 371.5h31M637 371.5h81M877 371.5h22M976 371.5h18M459 372.5h34M637 372.5h81M878 372.5h21M972 372.5h22M461 373.5h35M637 373.5h81M878 373.5h21M968 373.5h26M463 374.5h36M637 374.5h81M879 374.5h21M963 374.5h31M465 375.5h37M638 375.5h80M880 375.5h24M958 375.5h36M469 376.5h36M638 376.5h80M884 376.5h26M954 376.5h40M473 377.5h35M638 377.5h80M887 377.5h30M947 377.5h47M477 378.5h33M639 378.5h79M892 378.5h31M934 378.5h60M481 379.5h31M639 379.5h79M898 379.5h96M484 380.5h29M639 380.5h79M904 380.5h90M487 381.5h27M640 381.5h78M910 381.5h75M490 382.5h26M640 382.5h78M916 382.5h53M493 383.5h24M641 383.5h73M922 383.5h17M495 384.5h23M641 384.5h70M497 385.5h22M642 385.5h65M369 386.5h37M499 386.5h20M642 386.5h62M364 387.5h49M501 387.5h19M642 387.5h58M361 388.5h56M503 388.5h18M642 388.5h55M358 389.5h62M506 389.5h16M642 389.5h51M356 390.5h14M390 390.5h31M508 390.5h14M642 390.5h48M354 391.5h13M408 391.5h15M510 391.5h13M642 391.5h45M353 392.5h13M411 392.5h13M512 392.5h12M641 392.5h42M352 393.5h13M411 393.5h13M514 393.5h12M639 393.5h35M350 394.5h15M411 394.5h13M516 394.5h12M638 394.5h31M348 395.5h16M411 395.5h13M518 395.5h12M634 395.5h31M344 396.5h19M411 396.5h13M520 396.5h13M628 396.5h32M340 397.5h21M411 397.5h13M522 397.5h13M620 397.5h36M337 398.5h23M412 398.5h16M524 398.5h13M612 398.5h41M337 399.5h23M414 399.5h21M526 399.5h13M602 399.5h48M337 400.5h23M415 400.5h26M529 400.5h14M589 400.5h56M337 401.5h23M415 401.5h27M533 401.5h102M337 402.5h23M415 402.5h27M539 402.5h82M337 403.5h23M416 403.5h26M555 403.5h43M337 404.5h23M416 404.5h26M337 405.5h23M416 405.5h27M337 406.5h23M416 406.5h27M337 407.5h23M416 407.5h27M337 408.5h23M417 408.5h26M337 409.5h23M417 409.5h26M337 410.5h26M413 410.5h30M337 411.5h33M380 411.5h64M344 412.5h100M357 413.5h84M367 414.5h23"/>
<path stroke="#a6ff59" d="M129 162.5h17M140 163.5h29M162 164.5h20M176 165.5h19M187 166.5h17M199 167.5h12M204 168.5h11M206 169.5h13M210 170.5h12M213 171.5h13M216 172.5h14M220 173.5h14M223 174.5h15M227 175.5h15M230 176.5h17M234 177.5h19M239 178.5h19M244 179.5h19M248 180.5h19M251 181.5h19M254 182.5h19M258 183.5h19M261 184.5h20M265 185.5h21M269 186.5h22M274 187.5h23M278 188.5h24M282 189.5h22M287 190.5h19M292 191.5h15M297 192.5h13M303 193.5h9M305 194.5h9M307 195.5h9M309 196.5h9M311 197.5h10M313 198.5h10M315 199.5h11M318 200.5h11M320 201.5h12M323 202.5h11M325 203.5h12M328 204.5h11M330 205.5h11M332 206.5h12M334 207.5h12M337 208.5h12M339 209.5h12M342 210.5h12M344 211.5h12M346 212.5h12M348 213.5h12M350 214.5h12M352 215.5h12M354 216.5h11M355 217.5h12M357 218.5h11M357 219.5h10M357 220.5h10M357 221.5h10M357 222.5h9M357 223.5h9M357 224.5h9M356 225.5h9M356 226.5h8M355 227.5h8M354 228.5h8M354 229.5h7M353 230.5h7M351 231.5h7M350 232.5h7M349 233.5h7M347 234.5h8M346 235.5h7M345 236.5h7M344 237.5h7M343 238.5h6M342 239.5h6M341 240.5h6M340 241.5h6M340 242.5h5M339 243.5h5M338 244.5h5M338 245.5h5M337 246.5h5M335 247.5h6M331 248.5h10M328 249.5h12M324 250.5h16M320 251.5h19M317 252.5h21M314 253.5h24M311 254.5h25M309 255.5h23M306 256.5h23M304 257.5h22M302 258.5h21M292 259.5h28M282 260.5h36M273 261.5h43M266 262.5h48M262 263.5h50M259 264.5h51M256 265.5h52M254 266.5h53M252 267.5h53M250 268.5h54M248 269.5h55M246 270.5h53M245 271.5h48M244 272.5h40M243 273.5h31M242 274.5h26M242 275.5h25M241 276.5h26M241 277.5h25M241 278.5h25M241 279.5h24M240 280.5h25M240 281.5h24M240 282.5h24M240 283.5h24M240 284.5h23M817 284.5h10M239 285.5h24M809 285.5h29M239 286.5h23M800 286.5h49M239 287.5h23M791 287.5h66M239 288.5h23M775 288.5h87M239 289.5h22M752 289.5h115M238 290.5h23M738 290.5h79M826 290.5h45M238 291.5h22M725 291.5h84M836 291.5h40M238 292.5h23M715 292.5h85M845 292.5h35M238 293.5h24M711 293.5h80M854 293.5h29M238 294.5h25M706 294.5h69M860 294.5h27M238 295.5h26M702 295.5h50M864 295.5h27M238 296.5h28M698 296.5h43M868 296.5h27M238 297.5h29M693 297.5h38M871 297.5h28M238 298.5h30M688 298.5h34M875 298.5h27M239 299.5h31M683 299.5h33M878 299.5h28M239 300.5h33M679 300.5h32M881 300.5h29M239 301.5h35M674 301.5h32M884 301.5h30M239 302.5h37M671 302.5h31M887 302.5h30M240 303.5h37M668 303.5h30M890 303.5h31M240 304.5h39M665 304.5h29M892 304.5h33M241 305.5h40M662 305.5h29M896 305.5h39M241 306.5h43M658 306.5h29M899 306.5h47M242 307.5h44M654 307.5h30M902 307.5h53M242 308.5h46M651 308.5h30M906 308.5h60M243 309.5h48M646 309.5h32M910 309.5h67M244 310.5h49M640 310.5h34M914 310.5h74M245 311.5h51M635 311.5h37M917 311.5h77M245 312.5h53M631 312.5h40M919 312.5h75M246 313.5h55M626 313.5h43M922 313.5h72M247 314.5h58M622 314.5h46M925 314.5h69M248 315.5h62M617 315.5h50M934 315.5h60M249 316.5h67M612 316.5h52M950 316.5h44M250 317.5h71M609 317.5h53M960 317.5h34M252 318.5h75M606 318.5h52M961 318.5h33M253 319.5h81M603 319.5h51M961 319.5h33M255 320.5h83M601 320.5h46M962 320.5h32M258 321.5h81M598 321.5h45M962 321.5h32M261 322.5h80M596 322.5h43M963 322.5h31M265 323.5h78M593 323.5h42M963 323.5h31M270 324.5h75M590 324.5h41M964 324.5h30M276 325.5h71M587 325.5h40M964 325.5h30M288 326.5h61M584 326.5h39M965 326.5h29M305 327.5h46M581 327.5h38M965 327.5h29M311 328.5h43M578 328.5h38M966 328.5h28M318 329.5h39M575 329.5h38M966 329.5h28M324 330.5h35M573 330.5h37M967 330.5h27M331 331.5h32M570 331.5h37M967 331.5h27M337 332.5h29M569 332.5h36M967 332.5h27M340 333.5h30M569 333.5h34M966 333.5h28M342 334.5h31M568 334.5h33M965 334.5h29M345 335.5h32M566 335.5h34M964 335.5h30M348 336.5h34M565 336.5h33M964 336.5h30M350 337.5h36M564 337.5h33M963 337.5h31M353 338.5h39M562 338.5h34M961 338.5h33M356 339.5h42M560 339.5h35M960 339.5h34M359 340.5h46M558 340.5h37M959 340.5h35M363 341.5h46M555 341.5h40M956 341.5h38M367 342.5h46M551 342.5h44M953 342.5h41M373 343.5h43M547 343.5h48M945 343.5h49M380 344.5h40M545 344.5h50M925 344.5h69M389 345.5h34M545 345.5h51M921 345.5h73M401 346.5h25M545 346.5h51M917 346.5h77M408 347.5h22M545 347.5h51M914 347.5h80M412 348.5h21M545 348.5h51M911 348.5h83M414 349.5h23M545 349.5h51M909 349.5h85M417 350.5h23M545 350.5h51M907 350.5h87M419 351.5h26M545 351.5h51M905 351.5h89M422 352.5h27M545 352.5h51M904 352.5h90M425 353.5h29M545 353.5h51M903 353.5h20M930 353.5h64M429 354.5h29M509 354.5h87M902 354.5h20M932 354.5h62M433 355.5h29M507 355.5h89M902 355.5h20M932 355.5h62M438 356.5h27M504 356.5h93M902 356.5h20M932 356.5h60M443 357.5h25M500 357.5h103M902 357.5h20M932 357.5h59M447 358.5h24M494 358.5h114M902 358.5h20M932 358.5h57M450 359.5h24M484 359.5h130M902 359.5h20M932 359.5h56M453 360.5h87M552 360.5h67M901 360.5h21M932 360.5h55M455 361.5h80M579 361.5h44M901 361.5h21M932 361.5h54M458 362.5h74M585 362.5h40M901 362.5h21M932 362.5h53M461 363.5h69M591 363.5h37M901 363.5h21M932 363.5h52M463 364.5h66M596 364.5h34M901 364.5h21M932 364.5h51M466 365.5h62M601 365.5h30M900 365.5h22M932 365.5h51M469 366.5h58M605 366.5h28M900 366.5h22M932 366.5h50M471 367.5h55M610 367.5h24M900 367.5h22M932 367.5h49M474 368.5h52M614 368.5h21M900 368.5h22M932 368.5h49M479 369.5h47M616 369.5h20M900 369.5h22M932 369.5h48M485 370.5h41M618 370.5h18M899 370.5h23M932 370.5h46M489 371.5h37M620 371.5h17M899 371.5h23M931 371.5h45M493 372.5h34M620 372.5h17M899 372.5h23M931 372.5h41M496 373.5h31M620 373.5h17M899 373.5h25M928 373.5h40M499 374.5h29M620 374.5h17M900 374.5h63M502 375.5h27M620 375.5h18M904 375.5h54M505 376.5h25M620 376.5h18M910 376.5h44M508 377.5h22M620 377.5h18M917 377.5h30M510 378.5h21M620 378.5h19M923 378.5h11M512 379.5h20M620 379.5h19M513 380.5h19M620 380.5h19M514 381.5h19M620 381.5h20M516 382.5h17M621 382.5h19M517 383.5h16M621 383.5h20M518 384.5h16M621 384.5h20M519 385.5h15M621 385.5h21M519 386.5h16M621 386.5h21M520 387.5h15M621 387.5h21M521 388.5h14M621 388.5h21M522 389.5h14M621 389.5h21M370 390.5h20M522 390.5h14M621 390.5h21M367 391.5h41M523 391.5h13M621 391.5h21M366 392.5h45M524 392.5h13M617 392.5h24M365 393.5h46M526 393.5h13M612 393.5h27M365 394.5h46M528 394.5h13M606 394.5h32M364 395.5h47M530 395.5h13M599 395.5h35M363 396.5h48M533 396.5h16M590 396.5h38M361 397.5h50M535 397.5h40M580 397.5h40M360 398.5h52M537 398.5h75M360 399.5h54M539 399.5h63M360 400.5h55M543 400.5h46M360 401.5h55M360 402.5h55M360 403.5h56M360 404.5h56M360 405.5h56M360 406.5h56M360 407.5h56M360 408.5h57M360 409.5h57M363 410.5h50M370 411.5h10"/>
<path stroke="#bfff40" d="M129 161.5h25M146 162.5h29M169 163.5h20M182 164.5h19M195 165.5h15M204 166.5h13M211 167.5h11M215 168.5h12M219 169.5h12M222 170.5h13M226 171.5h15M230 172.5h15M234 173.5h16M238 174.5h16M242 175.5h17M247 176.5h18M253 177.5h17M258 178.5h16M263 179.5h15M267 180.5h14M270 181.5h15M273 182.5h16M277 183.5h17M281 184.5h18M286 185.5h18M291 186.5h15M297 187.5h11M302 188.5h8M304 189.5h8M306 190.5h8M307 191.5h9M310 192.5h8M312 193.5h9M314 194.5h9M316 195.5h9M318 196.5h10M321 197.5h9M323 198.5h10M326 199.5h10M329 200.5h10M332 201.5h10M334 202.5h11M337 203.5h11M339 204.5h11M341 205.5h12M344 206.5h11M346 207.5h12M349 208.5h12M351 209.5h12M354 210.5h12M356 211.5h12M358 212.5h12M360 213.5h12M362 214.5h11M364 215.5h11M365 216.5h11M367 217.5h10M368 218.5h9M367 219.5h9M367 220.5h9M367 221.5h8M366 222.5h9M366 223.5h8M366 224.5h8M365 225.5h8M364 226.5h8M363 227.5h8M362 228.5h7M361 229.5h7M360 230.5h7M358 231.5h8M357 232.5h7M356 233.5h7M355 234.5h7M353 235.5h7M352 236.5h7M351 237.5h7M349 238.5h7M348 239.5h7M347 240.5h6M346 241.5h6M345 242.5h6M344 243.5h6M343 244.5h6M343 245.5h5M342 246.5h5M341 247.5h5M341 248.5h4M340 249.5h5M340 250.5h4M339 251.5h4M338 252.5h4M338 253.5h4M336 254.5h5M332 255.5h8M329 256.5h11M326 257.5h13M323 258.5h15M320 259.5h18M318 260.5h19M316 261.5h18M314 262.5h17M312 263.5h16M310 264.5h16M308 265.5h15M307 266.5h14M305 267.5h14M304 268.5h13M303 269.5h13M299 270.5h15M293 271.5h20M284 272.5h28M274 273.5h37M268 274.5h42M267 275.5h43M267 276.5h42M266 277.5h43M817 277.5h8M266 278.5h42M809 278.5h23M265 279.5h42M802 279.5h38M265 280.5h42M794 280.5h54M264 281.5h42M787 281.5h71M264 282.5h42M772 282.5h92M264 283.5h42M752 283.5h118M263 284.5h42M738 284.5h79M827 284.5h48M263 285.5h41M725 285.5h84M838 285.5h42M262 286.5h42M715 286.5h85M849 286.5h35M262 287.5h41M711 287.5h80M857 287.5h32M262 288.5h39M706 288.5h69M862 288.5h31M261 289.5h38M702 289.5h50M867 289.5h30M261 290.5h36M697 290.5h41M871 290.5h30M260 291.5h35M692 291.5h33M876 291.5h29M261 292.5h33M688 292.5h27M880 292.5h29M262 293.5h31M683 293.5h28M883 293.5h30M263 294.5h30M678 294.5h28M887 294.5h30M264 295.5h31M673 295.5h29M891 295.5h30M266 296.5h31M668 296.5h30M895 296.5h30M267 297.5h32M664 297.5h29M899 297.5h35M268 298.5h33M660 298.5h28M902 298.5h42M270 299.5h34M656 299.5h27M906 299.5h49M272 300.5h34M652 300.5h27M910 300.5h57M274 301.5h35M649 301.5h25M914 301.5h66M276 302.5h36M642 302.5h29M917 302.5h76M277 303.5h39M635 303.5h33M921 303.5h73M279 304.5h40M628 304.5h37M925 304.5h69M281 305.5h42M622 305.5h40M935 305.5h59M284 306.5h43M617 306.5h41M946 306.5h48M286 307.5h45M613 307.5h41M955 307.5h39M288 308.5h48M610 308.5h41M966 308.5h28M291 309.5h47M607 309.5h39M977 309.5h17M293 310.5h46M603 310.5h37M988 310.5h6M296 311.5h44M600 311.5h35M298 312.5h43M596 312.5h35M301 313.5h42M592 313.5h34M305 314.5h39M588 314.5h34M310 315.5h36M585 315.5h32M316 316.5h31M582 316.5h30M321 317.5h28M579 317.5h30M327 318.5h24M577 318.5h29M334 319.5h19M574 319.5h29M338 320.5h17M572 320.5h29M339 321.5h19M569 321.5h29M341 322.5h19M566 322.5h30M343 323.5h20M563 323.5h30M345 324.5h21M560 324.5h30M347 325.5h22M557 325.5h30M349 326.5h23M554 326.5h30M351 327.5h24M552 327.5h29M354 328.5h24M550 328.5h28M357 329.5h25M548 329.5h27M359 330.5h27M545 330.5h28M363 331.5h27M544 331.5h26M366 332.5h29M541 332.5h28M370 333.5h30M539 333.5h30M373 334.5h32M537 334.5h31M377 335.5h33M534 335.5h32M382 336.5h32M531 336.5h34M386 337.5h31M528 337.5h36M392 338.5h29M524 338.5h38M398 339.5h26M521 339.5h39M405 340.5h23M518 340.5h40M409 341.5h22M514 341.5h41M413 342.5h22M511 342.5h40M416 343.5h22M509 343.5h38M420 344.5h21M507 344.5h38M423 345.5h22M504 345.5h41M426 346.5h23M502 346.5h43M430 347.5h23M499 347.5h46M433 348.5h25M495 348.5h50M437 349.5h25M491 349.5h54M440 350.5h27M486 350.5h59M445 351.5h27M481 351.5h64M449 352.5h96M454 353.5h91M923 353.5h7M458 354.5h51M922 354.5h10M462 355.5h45M922 355.5h10M465 356.5h39M922 356.5h10M468 357.5h32M922 357.5h10M471 358.5h23M922 358.5h10M474 359.5h10M922 359.5h10M540 360.5h12M922 360.5h10M535 361.5h44M922 361.5h10M532 362.5h53M922 362.5h10M530 363.5h61M922 363.5h10M529 364.5h67M922 364.5h10M528 365.5h73M922 365.5h10M527 366.5h78M922 366.5h10M526 367.5h84M922 367.5h10M526 368.5h88M922 368.5h10M526 369.5h90M922 369.5h10M526 370.5h92M922 370.5h10M526 371.5h94M922 371.5h9M527 372.5h93M922 372.5h9M527 373.5h93M924 373.5h4M528 374.5h92M529 375.5h91M530 376.5h90M530 377.5h90M531 378.5h89M532 379.5h88M532 380.5h88M533 381.5h87M533 382.5h88M533 383.5h88M534 384.5h87M534 385.5h87M535 386.5h86M535 387.5h86M535 388.5h86M536 389.5h85M536 390.5h85M536 391.5h85M537 392.5h80M539 393.5h73M541 394.5h65M543 395.5h56M549 396.5h41M575 397.5h5"/>
<path stroke="#d9ff26" d="M129 160.5h37M154 161.5h29M175 162.5h22M189 163.5h18M201 164.5h16M210 165.5h14M217 166.5h13M222 167.5h12M227 168.5h11M231 169.5h13M235 170.5h15M241 171.5h14M245 172.5h15M250 173.5h15M254 174.5h15M259 175.5h14M265 176.5h12M270 177.5h11M274 178.5h13M278 179.5h13M281 180.5h14M285 181.5h15M289 182.5h14M294 183.5h12M299 184.5h9M304 185.5h6M306 186.5h7M308 187.5h7M310 188.5h7M312 189.5h7M314 190.5h7M316 191.5h8M318 192.5h9M321 193.5h8M323 194.5h9M325 195.5h10M328 196.5h9M330 197.5h10M333 198.5h10M336 199.5h10M339 200.5h10M342 201.5h10M345 202.5h10M348 203.5h11M350 204.5h12M353 205.5h11M355 206.5h12M358 207.5h12M361 208.5h11M363 209.5h11M366 210.5h11M368 211.5h11M370 212.5h11M372 213.5h10M373 214.5h11M375 215.5h11M376 216.5h11M377 217.5h9M377 218.5h8M376 219.5h8M376 220.5h7M375 221.5h7M375 222.5h6M374 223.5h6M374 224.5h5M373 225.5h5M372 226.5h5M371 227.5h5M369 228.5h6M368 229.5h6M367 230.5h6M366 231.5h6M364 232.5h7M363 233.5h7M362 234.5h7M360 235.5h7M359 236.5h7M358 237.5h7M356 238.5h7M355 239.5h6M353 240.5h6M352 241.5h6M351 242.5h5M350 243.5h5M349 244.5h5M348 245.5h5M347 246.5h5M346 247.5h5M345 248.5h5M345 249.5h4M344 250.5h4M343 251.5h4M342 252.5h5M342 253.5h4M341 254.5h4M340 255.5h5M340 256.5h4M339 257.5h4M338 258.5h4M338 259.5h4M337 260.5h4M334 261.5h6M331 262.5h9M328 263.5h11M326 264.5h12M323 265.5h14M321 266.5h14M319 267.5h14M317 268.5h13M316 269.5h12M314 270.5h12M313 271.5h11M809 271.5h18M312 272.5h11M798 272.5h36M311 273.5h11M790 273.5h50M310 274.5h11M780 274.5h66M310 275.5h10M766 275.5h88M309 276.5h11M752 276.5h110M309 277.5h10M744 277.5h73M825 277.5h44M308 278.5h10M734 278.5h75M832 278.5h44M307 279.5h10M724 279.5h78M840 279.5h42M307 280.5h10M715 280.5h79M848 280.5h40M306 281.5h11M711 281.5h76M858 281.5h35M306 282.5h11M706 282.5h66M864 282.5h33M306 283.5h12M702 283.5h50M870 283.5h31M305 284.5h13M697 284.5h41M875 284.5h31M304 285.5h14M692 285.5h33M880 285.5h30M304 286.5h14M688 286.5h27M884 286.5h30M303 287.5h15M683 287.5h28M889 287.5h29M301 288.5h18M677 288.5h29M893 288.5h29M299 289.5h20M671 289.5h31M897 289.5h30M297 290.5h23M665 290.5h32M901 290.5h34M295 291.5h25M660 291.5h32M905 291.5h38M294 292.5h27M655 292.5h33M909 292.5h42M293 293.5h29M651 293.5h32M913 293.5h48M293 294.5h30M645 294.5h33M917 294.5h53M295 295.5h31M638 295.5h35M921 295.5h59M297 296.5h32M631 296.5h37M925 296.5h66M299 297.5h34M624 297.5h40M934 297.5h60M301 298.5h35M617 298.5h43M944 298.5h50M304 299.5h34M613 299.5h43M955 299.5h39M306 300.5h33M610 300.5h42M967 300.5h27M309 301.5h31M607 301.5h42M980 301.5h14M312 302.5h29M604 302.5h38M993 302.5h1M316 303.5h26M601 303.5h34M319 304.5h25M598 304.5h30M323 305.5h22M595 305.5h27M327 306.5h19M592 306.5h25M331 307.5h16M588 307.5h25M336 308.5h13M585 308.5h25M338 309.5h12M581 309.5h26M339 310.5h12M576 310.5h27M340 311.5h13M572 311.5h28M341 312.5h13M568 312.5h28M343 313.5h13M564 313.5h28M344 314.5h14M561 314.5h27M346 315.5h14M559 315.5h26M347 316.5h15M556 316.5h26M349 317.5h16M553 317.5h26M351 318.5h16M551 318.5h26M353 319.5h17M548 319.5h26M355 320.5h18M545 320.5h27M358 321.5h18M542 321.5h27M360 322.5h20M540 322.5h26M363 323.5h21M538 323.5h25M366 324.5h21M536 324.5h24M369 325.5h22M533 325.5h24M372 326.5h22M531 326.5h23M375 327.5h23M529 327.5h23M378 328.5h24M526 328.5h24M382 329.5h25M524 329.5h24M386 330.5h26M521 330.5h24M390 331.5h26M518 331.5h26M395 332.5h25M515 332.5h26M400 333.5h25M512 333.5h27M405 334.5h24M509 334.5h28M410 335.5h22M506 335.5h28M414 336.5h22M504 336.5h27M417 337.5h22M502 337.5h26M421 338.5h22M499 338.5h25M424 339.5h23M497 339.5h24M428 340.5h22M496 340.5h22M431 341.5h22M494 341.5h20M435 342.5h22M491 342.5h20M438 343.5h23M488 343.5h21M441 344.5h24M485 344.5h22M445 345.5h24M481 345.5h23M449 346.5h25M477 346.5h25M453 347.5h46M458 348.5h37M462 349.5h29M467 350.5h19M472 351.5h9"/>
<path stroke="#f2ff0d" d="M129 159.5h42M166 160.5h22M183 161.5h20M197 162.5h16M207 163.5h16M217 164.5h16M224 165.5h13M230 166.5h11M234 167.5h12M238 168.5h13M244 169.5h13M250 170.5h14M255 171.5h14M260 172.5h12M265 173.5h10M269 174.5h10M273 175.5h10M277 176.5h11M281 177.5h12M287 178.5h12M291 179.5h12M295 180.5h10M300 181.5h7M303 182.5h6M306 183.5h6M308 184.5h6M310 185.5h7M313 186.5h6M315 187.5h7M317 188.5h7M319 189.5h8M321 190.5h8M324 191.5h8M327 192.5h8M329 193.5h9M332 194.5h8M335 195.5h8M337 196.5h9M340 197.5h9M343 198.5h9M346 199.5h9M349 200.5h10M352 201.5h10M355 202.5h11M359 203.5h11M362 204.5h11M364 205.5h11M367 206.5h10M370 207.5h9M372 208.5h9M374 209.5h9M377 210.5h9M379 211.5h9M381 212.5h10M382 213.5h11M384 214.5h11M386 215.5h11M387 216.5h10M386 217.5h9M385 218.5h8M384 219.5h7M383 220.5h7M382 221.5h6M381 222.5h6M380 223.5h6M379 224.5h6M378 225.5h6M377 226.5h5M376 227.5h5M375 228.5h5M374 229.5h5M373 230.5h5M372 231.5h5M371 232.5h5M370 233.5h5M369 234.5h5M367 235.5h6M366 236.5h7M365 237.5h7M363 238.5h6M361 239.5h6M359 240.5h6M358 241.5h6M356 242.5h6M355 243.5h5M354 244.5h5M353 245.5h5M352 246.5h5M351 247.5h4M350 248.5h4M349 249.5h4M348 250.5h5M347 251.5h5M347 252.5h4M346 253.5h4M345 254.5h4M345 255.5h4M344 256.5h4M343 257.5h4M342 258.5h5M342 259.5h4M341 260.5h4M340 261.5h4M340 262.5h4M339 263.5h4M783 263.5h12M338 264.5h4M777 264.5h44M337 265.5h5M770 265.5h60M335 266.5h6M764 266.5h76M333 267.5h7M756 267.5h94M330 268.5h9M750 268.5h107M328 269.5h10M746 269.5h115M326 270.5h11M741 270.5h125M324 271.5h12M735 271.5h74M827 271.5h45M323 272.5h10M729 272.5h69M834 272.5h45M322 273.5h11M722 273.5h68M840 273.5h45M321 274.5h11M716 274.5h64M846 274.5h46M320 275.5h11M711 275.5h55M854 275.5h42M320 276.5h10M707 276.5h45M862 276.5h38M319 277.5h10M702 277.5h42M869 277.5h35M318 278.5h10M698 278.5h36M876 278.5h33M317 279.5h10M693 279.5h31M882 279.5h31M317 280.5h10M688 280.5h27M888 280.5h30M317 281.5h11M683 281.5h28M893 281.5h30M317 282.5h12M677 282.5h29M897 282.5h31M318 283.5h12M670 283.5h32M901 283.5h34M318 284.5h12M663 284.5h34M906 284.5h36M318 285.5h13M656 285.5h36M910 285.5h39M318 286.5h15M649 286.5h39M914 286.5h42M318 287.5h16M643 287.5h40M918 287.5h46M319 288.5h17M636 288.5h41M922 288.5h51M319 289.5h18M628 289.5h43M927 289.5h55M320 290.5h18M621 290.5h44M935 290.5h55M320 291.5h19M614 291.5h46M943 291.5h51M321 292.5h19M612 292.5h43M951 292.5h43M322 293.5h19M610 293.5h41M961 293.5h33M323 294.5h19M607 294.5h38M970 294.5h24M326 295.5h17M605 295.5h33M980 295.5h14M329 296.5h15M602 296.5h29M991 296.5h3M333 297.5h12M600 297.5h24M336 298.5h10M597 298.5h20M338 299.5h10M593 299.5h20M339 300.5h10M590 300.5h20M340 301.5h10M586 301.5h21M341 302.5h11M583 302.5h21M342 303.5h11M580 303.5h21M344 304.5h10M575 304.5h23M345 305.5h11M570 305.5h25M346 306.5h11M565 306.5h27M347 307.5h12M561 307.5h27M349 308.5h11M556 308.5h29M350 309.5h12M552 309.5h29M351 310.5h13M548 310.5h28M353 311.5h12M545 311.5h27M354 312.5h13M543 312.5h25M356 313.5h14M540 313.5h24M358 314.5h14M538 314.5h23M360 315.5h15M536 315.5h23M362 316.5h17M534 316.5h22M365 317.5h17M531 317.5h22M367 318.5h19M529 318.5h22M370 319.5h19M527 319.5h21M373 320.5h20M525 320.5h20M376 321.5h21M522 321.5h20M380 322.5h21M520 322.5h20M384 323.5h20M518 323.5h20M387 324.5h22M515 324.5h21M391 325.5h22M513 325.5h20M394 326.5h24M510 326.5h21M398 327.5h24M507 327.5h22M402 328.5h25M505 328.5h21M407 329.5h25M502 329.5h22M412 330.5h24M500 330.5h21M416 331.5h25M498 331.5h20M420 332.5h25M495 332.5h20M425 333.5h25M493 333.5h19M429 334.5h24M491 334.5h18M432 335.5h25M488 335.5h18M436 336.5h25M486 336.5h18M439 337.5h25M484 337.5h18M443 338.5h24M482 338.5h17M447 339.5h23M480 339.5h17M450 340.5h23M478 340.5h18M453 341.5h22M476 341.5h18M457 342.5h34M461 343.5h27M465 344.5h20M469 345.5h12M474 346.5h3"/>
<path stroke="#fff200" d="M129 158.5h42M171 159.5h18M188 160.5h19M203 161.5h15M213 162.5h15M223 163.5h14M233 164.5h10M237 165.5h10M241 166.5h11M246 167.5h11M251 168.5h12M257 169.5h12M264 170.5h10M269 171.5h8M272 172.5h9M275 173.5h9M279 174.5h9M283 175.5h10M288 176.5h10M293 177.5h10M299 178.5h7M303 179.5h5M305 180.5h5M307 181.5h6M309 182.5h6M312 183.5h6M314 184.5h6M317 185.5h6M319 186.5h7M322 187.5h7M324 188.5h8M327 189.5h7M329 190.5h8M332 191.5h8M335 192.5h7M338 193.5h7M340 194.5h8M343 195.5h8M346 196.5h8M349 197.5h9M352 198.5h9M355 199.5h10M359 200.5h9M362 201.5h10M366 202.5h9M370 203.5h8M373 204.5h7M375 205.5h8M377 206.5h8M379 207.5h8M381 208.5h9M383 209.5h9M386 210.5h9M388 211.5h10M391 212.5h10M393 213.5h10M395 214.5h11M397 215.5h11M397 216.5h11M395 217.5h9M393 218.5h8M391 219.5h8M390 220.5h7M388 221.5h7M387 222.5h6M386 223.5h6M385 224.5h5M384 225.5h5M382 226.5h6M381 227.5h5M380 228.5h5M379 229.5h5M378 230.5h5M377 231.5h5M376 232.5h5M375 233.5h5M374 234.5h5M373 235.5h5M373 236.5h4M372 237.5h4M369 238.5h6M367 239.5h6M365 240.5h6M364 241.5h5M362 242.5h6M360 243.5h6M359 244.5h5M358 245.5h5M357 246.5h4M355 247.5h5M354 248.5h5M353 249.5h5M353 250.5h4M352 251.5h4M351 252.5h4M350 253.5h4M349 254.5h5M349 255.5h4M348 256.5h4M347 257.5h4M347 258.5h4M346 259.5h4M777 259.5h21M345 260.5h4M764 260.5h51M344 261.5h4M754 261.5h79M344 262.5h4M745 262.5h103M343 263.5h4M738 263.5h45M795 263.5h64M342 264.5h5M732 264.5h45M821 264.5h45M342 265.5h4M727 265.5h43M830 265.5h43M341 266.5h4M722 266.5h42M840 266.5h40M340 267.5h4M718 267.5h38M850 267.5h36M339 268.5h5M714 268.5h36M857 268.5h35M338 269.5h5M710 269.5h36M861 269.5h36M337 270.5h5M707 270.5h34M866 270.5h36M336 271.5h5M703 271.5h32M872 271.5h35M333 272.5h7M699 272.5h30M879 272.5h32M333 273.5h7M695 273.5h27M885 273.5h30M332 274.5h8M691 274.5h25M892 274.5h27M331 275.5h8M686 275.5h25M896 275.5h27M330 276.5h9M680 276.5h27M900 276.5h29M329 277.5h9M673 277.5h29M904 277.5h33M328 278.5h10M666 278.5h32M909 278.5h36M327 279.5h10M659 279.5h34M913 279.5h39M327 280.5h10M652 280.5h36M918 280.5h41M328 281.5h10M646 281.5h37M923 281.5h45M329 282.5h10M641 282.5h36M928 282.5h49M330 283.5h10M635 283.5h35M935 283.5h50M330 284.5h10M628 284.5h35M942 284.5h52M331 285.5h10M620 285.5h36M949 285.5h45M333 286.5h9M613 286.5h36M956 286.5h38M334 287.5h9M610 287.5h33M964 287.5h30M336 288.5h8M606 288.5h30M973 288.5h21M337 289.5h8M604 289.5h24M982 289.5h12M338 290.5h8M601 290.5h20M990 290.5h4M339 291.5h8M599 291.5h15M340 292.5h8M597 292.5h15M341 293.5h8M594 293.5h16M342 294.5h8M591 294.5h16M343 295.5h9M588 295.5h17M344 296.5h9M585 296.5h17M345 297.5h9M582 297.5h18M346 298.5h10M576 298.5h21M348 299.5h10M569 299.5h24M349 300.5h10M562 300.5h28M350 301.5h11M556 301.5h30M352 302.5h10M551 302.5h32M353 303.5h11M547 303.5h33M354 304.5h11M543 304.5h32M356 305.5h11M541 305.5h29M357 306.5h11M538 306.5h27M359 307.5h11M535 307.5h26M360 308.5h12M533 308.5h23M362 309.5h13M530 309.5h22M364 310.5h14M527 310.5h21M365 311.5h16M525 311.5h20M367 312.5h17M523 312.5h20M370 313.5h18M521 313.5h19M372 314.5h19M518 314.5h20M375 315.5h20M516 315.5h20M379 316.5h19M514 316.5h20M382 317.5h20M512 317.5h19M386 318.5h20M509 318.5h20M389 319.5h21M507 319.5h20M393 320.5h22M505 320.5h20M397 321.5h22M502 321.5h20M401 322.5h23M500 322.5h20M404 323.5h25M498 323.5h20M409 324.5h24M495 324.5h20M413 325.5h25M493 325.5h20M418 326.5h26M490 326.5h20M422 327.5h29M488 327.5h19M427 328.5h30M486 328.5h19M432 329.5h30M483 329.5h19M436 330.5h31M481 330.5h19M441 331.5h30M479 331.5h19M445 332.5h29M476 332.5h19M450 333.5h43M453 334.5h38M457 335.5h31M461 336.5h25M464 337.5h20M467 338.5h15M470 339.5h10M473 340.5h5M475 341.5h1"/>
<path stroke="#ffd900" d="M129 157.5h38M171 158.5h18M189 159.5h19M207 160.5h16M218 161.5h15M228 162.5h12M237 163.5h9M243 164.5h9M247 165.5h10M252 166.5h11M257 167.5h11M263 168.5h10M269 169.5h8M274 170.5h7M277 171.5h8M281 172.5h8M284 173.5h9M288 174.5h10M293 175.5h10M298 176.5h7M303 177.5h5M306 178.5h5M308 179.5h5M310 180.5h5M313 181.5h5M315 182.5h6M318 183.5h6M320 184.5h7M323 185.5h7M326 186.5h7M329 187.5h7M332 188.5h6M334 189.5h7M337 190.5h6M340 191.5h6M342 192.5h7M345 193.5h7M348 194.5h7M351 195.5h8M354 196.5h8M358 197.5h8M361 198.5h9M365 199.5h8M368 200.5h8M372 201.5h7M375 202.5h8M378 203.5h8M380 204.5h8M383 205.5h8M385 206.5h8M387 207.5h9M390 208.5h8M392 209.5h9M395 210.5h10M398 211.5h10M401 212.5h10M403 213.5h10M406 214.5h10M408 215.5h10M408 216.5h9M404 217.5h10M401 218.5h9M399 219.5h7M397 220.5h7M395 221.5h6M393 222.5h6M392 223.5h6M390 224.5h6M389 225.5h5M388 226.5h5M386 227.5h5M385 228.5h5M384 229.5h5M383 230.5h5M382 231.5h5M381 232.5h5M380 233.5h4M379 234.5h4M378 235.5h4M377 236.5h5M376 237.5h5M375 238.5h4M373 239.5h5M371 240.5h5M369 241.5h6M368 242.5h5M366 243.5h5M364 244.5h5M363 245.5h5M361 246.5h5M360 247.5h5M359 248.5h4M358 249.5h4M357 250.5h4M356 251.5h4M355 252.5h5M354 253.5h5M354 254.5h4M353 255.5h4M778 255.5h13M352 256.5h4M755 256.5h54M351 257.5h4M741 257.5h89M351 258.5h4M730 258.5h125M350 259.5h4M721 259.5h56M798 259.5h65M349 260.5h4M716 260.5h48M815 260.5h57M348 261.5h4M714 261.5h40M833 261.5h48M348 262.5h4M711 262.5h34M848 262.5h40M347 263.5h4M708 263.5h30M859 263.5h35M347 264.5h4M705 264.5h27M866 264.5h34M346 265.5h4M702 265.5h25M873 265.5h35M345 266.5h5M698 266.5h24M880 266.5h35M344 267.5h5M695 267.5h23M886 267.5h34M344 268.5h4M691 268.5h23M892 268.5h33M343 269.5h5M687 269.5h23M897 269.5h31M342 270.5h5M683 270.5h24M902 270.5h31M341 271.5h5M677 271.5h26M907 271.5h33M340 272.5h5M670 272.5h29M911 272.5h37M340 273.5h5M663 273.5h32M915 273.5h40M340 274.5h5M656 274.5h35M919 274.5h43M339 275.5h5M649 275.5h37M923 275.5h47M339 276.5h5M645 276.5h35M929 276.5h51M338 277.5h6M640 277.5h33M937 277.5h52M338 278.5h6M636 278.5h30M945 278.5h49M337 279.5h7M630 279.5h29M952 279.5h42M337 280.5h7M625 280.5h27M959 280.5h35M338 281.5h7M619 281.5h27M968 281.5h26M339 282.5h7M613 282.5h28M977 282.5h17M340 283.5h6M609 283.5h26M985 283.5h9M340 284.5h7M605 284.5h23M341 285.5h7M602 285.5h18M342 286.5h7M599 286.5h14M343 287.5h7M595 287.5h15M344 288.5h7M592 288.5h14M345 289.5h7M590 289.5h14M346 290.5h7M587 290.5h14M347 291.5h8M584 291.5h15M348 292.5h8M581 292.5h16M349 293.5h8M574 293.5h20M350 294.5h9M562 294.5h29M352 295.5h8M552 295.5h36M353 296.5h9M545 296.5h40M354 297.5h10M542 297.5h40M356 298.5h9M539 298.5h37M358 299.5h9M536 299.5h33M359 300.5h10M533 300.5h29M361 301.5h10M530 301.5h26M362 302.5h11M527 302.5h24M364 303.5h11M525 303.5h22M365 304.5h13M522 304.5h21M367 305.5h13M520 305.5h21M368 306.5h15M517 306.5h21M370 307.5h16M515 307.5h20M372 308.5h17M512 308.5h21M375 309.5h18M510 309.5h20M378 310.5h18M508 310.5h19M381 311.5h19M506 311.5h19M384 312.5h20M504 312.5h19M388 313.5h19M501 313.5h20M391 314.5h21M499 314.5h19M395 315.5h22M497 315.5h19M398 316.5h23M495 316.5h19M402 317.5h24M492 317.5h20M406 318.5h24M490 318.5h19M410 319.5h25M487 319.5h20M415 320.5h25M485 320.5h20M419 321.5h32M482 321.5h20M424 322.5h38M480 322.5h20M429 323.5h41M478 323.5h20M433 324.5h62M438 325.5h55M444 326.5h46M451 327.5h37M457 328.5h29M462 329.5h21M467 330.5h14M471 331.5h8M474 332.5h2"/>
<path stroke="#ffbf00" d="M129 156.5h25M167 157.5h21M189 158.5h21M208 159.5h19M223 160.5h14M233 161.5h11M240 162.5h10M246 163.5h10M252 164.5h10M257 165.5h10M263 166.5h9M268 167.5h8M273 168.5h8M277 169.5h8M281 170.5h8M285 171.5h8M289 172.5h8M293 173.5h9M298 174.5h7M303 175.5h4M305 176.5h5M308 177.5h4M311 178.5h4M313 179.5h5M315 180.5h6M318 181.5h6M321 182.5h6M324 183.5h6M327 184.5h6M330 185.5h6M333 186.5h6M336 187.5h5M338 188.5h5M341 189.5h5M343 190.5h6M346 191.5h6M349 192.5h7M352 193.5h7M355 194.5h8M359 195.5h7M362 196.5h9M366 197.5h8M370 198.5h7M373 199.5h7M376 200.5h7M379 201.5h8M383 202.5h8M386 203.5h7M388 204.5h8M391 205.5h8M393 206.5h8M396 207.5h8M398 208.5h9M401 209.5h10M405 210.5h10M408 211.5h10M411 212.5h10M413 213.5h10M416 214.5h9M418 215.5h9M417 216.5h10M414 217.5h10M410 218.5h11M406 219.5h11M404 220.5h10M401 221.5h8M399 222.5h7M398 223.5h5M396 224.5h5M394 225.5h6M393 226.5h5M391 227.5h5M390 228.5h5M389 229.5h5M388 230.5h5M387 231.5h4M386 232.5h4M384 233.5h5M383 234.5h5M382 235.5h5M382 236.5h4M381 237.5h4M379 238.5h5M378 239.5h4M376 240.5h5M375 241.5h4M373 242.5h5M371 243.5h5M369 244.5h6M368 245.5h5M366 246.5h5M365 247.5h5M363 248.5h5M362 249.5h5M361 250.5h4M360 251.5h5M360 252.5h4M359 253.5h4M752 253.5h54M358 254.5h4M734 254.5h91M357 255.5h4M720 255.5h58M791 255.5h65M356 256.5h4M712 256.5h43M809 256.5h59M355 257.5h5M707 257.5h34M830 257.5h47M355 258.5h4M704 258.5h26M855 258.5h31M354 259.5h4M701 259.5h20M863 259.5h32M353 260.5h4M698 260.5h18M872 260.5h31M352 261.5h4M694 261.5h20M881 261.5h28M352 262.5h4M690 262.5h21M888 262.5h28M351 263.5h4M687 263.5h21M894 263.5h29M351 264.5h4M683 264.5h22M900 264.5h30M350 265.5h4M679 265.5h23M908 265.5h27M350 266.5h4M675 266.5h23M915 266.5h25M349 267.5h4M669 267.5h26M920 267.5h25M348 268.5h5M664 268.5h27M925 268.5h25M348 269.5h4M657 269.5h30M928 269.5h30M347 270.5h5M650 270.5h33M933 270.5h33M346 271.5h5M645 271.5h32M940 271.5h35M345 272.5h5M640 272.5h30M948 272.5h35M345 273.5h5M636 273.5h27M955 273.5h37M345 274.5h5M632 274.5h24M962 274.5h32M344 275.5h6M628 275.5h21M970 275.5h24M344 276.5h6M623 276.5h22M980 276.5h14M344 277.5h6M617 277.5h23M989 277.5h5M344 278.5h6M612 278.5h24M344 279.5h6M608 279.5h22M344 280.5h6M603 280.5h22M345 281.5h6M600 281.5h19M346 282.5h6M596 282.5h17M346 283.5h7M593 283.5h16M347 284.5h7M590 284.5h15M348 285.5h7M587 285.5h15M349 286.5h7M584 286.5h15M350 287.5h7M581 287.5h14M351 288.5h8M562 288.5h30M352 289.5h8M543 289.5h47M353 290.5h8M540 290.5h47M355 291.5h8M536 291.5h48M356 292.5h8M533 292.5h48M357 293.5h9M530 293.5h44M359 294.5h8M527 294.5h35M360 295.5h9M524 295.5h28M362 296.5h9M521 296.5h24M364 297.5h10M518 297.5h24M365 298.5h12M516 298.5h23M367 299.5h13M513 299.5h23M369 300.5h13M511 300.5h22M371 301.5h14M508 301.5h22M373 302.5h15M506 302.5h21M375 303.5h15M504 303.5h21M378 304.5h15M502 304.5h20M380 305.5h16M500 305.5h20M383 306.5h17M499 306.5h18M386 307.5h17M496 307.5h19M389 308.5h18M494 308.5h18M393 309.5h20M492 309.5h18M396 310.5h22M490 310.5h18M400 311.5h24M488 311.5h18M404 312.5h24M485 312.5h19M407 313.5h26M483 313.5h18M412 314.5h26M480 314.5h19M417 315.5h33M478 315.5h19M421 316.5h54M476 316.5h19M426 317.5h66M430 318.5h60M435 319.5h52M440 320.5h45M451 321.5h31M462 322.5h18M470 323.5h8"/>
<path stroke="#ffa600" d="M129 155.5h8M154 156.5h32M188 157.5h26M210 158.5h23M227 159.5h13M237 160.5h10M244 161.5h10M250 162.5h11M256 163.5h10M262 164.5h9M267 165.5h8M272 166.5h8M276 167.5h8M281 168.5h7M285 169.5h8M289 170.5h8M293 171.5h8M297 172.5h7M302 173.5h4M305 174.5h4M307 175.5h4M310 176.5h4M312 177.5h5M315 178.5h5M318 179.5h5M321 180.5h5M324 181.5h5M327 182.5h6M330 183.5h6M333 184.5h6M336 185.5h5M339 186.5h5M341 187.5h5M343 188.5h6M346 189.5h5M349 190.5h6M352 191.5h6M356 192.5h6M359 193.5h8M363 194.5h7M366 195.5h8M371 196.5h6M374 197.5h6M377 198.5h6M380 199.5h7M383 200.5h7M387 201.5h7M391 202.5h7M393 203.5h8M396 204.5h8M399 205.5h8M401 206.5h9M404 207.5h10M407 208.5h10M411 209.5h10M415 210.5h10M418 211.5h11M421 212.5h11M423 213.5h10M425 214.5h10M427 215.5h10M427 216.5h10M424 217.5h10M421 218.5h10M417 219.5h11M414 220.5h11M409 221.5h12M406 222.5h11M403 223.5h10M401 224.5h7M400 225.5h5M398 226.5h5M396 227.5h5M395 228.5h5M394 229.5h5M393 230.5h4M391 231.5h5M390 232.5h5M389 233.5h5M388 234.5h5M387 235.5h5M386 236.5h4M385 237.5h5M384 238.5h4M382 239.5h5M381 240.5h5M379 241.5h5M378 242.5h5M376 243.5h5M375 244.5h5M373 245.5h5M371 246.5h5M370 247.5h5M368 248.5h5M367 249.5h4M365 250.5h5M778 250.5h14M365 251.5h4M746 251.5h67M364 252.5h4M723 252.5h113M363 253.5h4M713 253.5h39M806 253.5h54M362 254.5h4M706 254.5h28M825 254.5h49M361 255.5h4M700 255.5h20M856 255.5h30M360 256.5h5M695 256.5h17M868 256.5h27M360 257.5h4M690 257.5h17M877 257.5h26M359 258.5h4M687 258.5h17M886 258.5h25M358 259.5h4M683 259.5h18M895 259.5h24M357 260.5h4M679 260.5h19M903 260.5h23M356 261.5h5M674 261.5h20M909 261.5h22M356 262.5h4M669 262.5h21M916 262.5h21M355 263.5h4M665 263.5h22M923 263.5h20M355 264.5h4M660 264.5h23M930 264.5h19M354 265.5h5M655 265.5h24M935 265.5h20M354 266.5h4M649 266.5h26M940 266.5h21M353 267.5h5M644 267.5h25M945 267.5h25M353 268.5h4M640 268.5h24M950 268.5h28M352 269.5h5M635 269.5h22M958 269.5h29M352 270.5h4M631 270.5h19M966 270.5h28M351 271.5h5M626 271.5h19M975 271.5h19M350 272.5h5M621 272.5h19M983 272.5h11M350 273.5h5M616 273.5h20M992 273.5h2M350 274.5h5M611 274.5h21M350 275.5h5M606 275.5h22M350 276.5h5M601 276.5h22M350 277.5h5M597 277.5h20M350 278.5h6M593 278.5h19M350 279.5h6M589 279.5h19M350 280.5h7M586 280.5h17M351 281.5h7M583 281.5h17M352 282.5h7M580 282.5h16M353 283.5h7M540 283.5h53M354 284.5h7M534 284.5h56M355 285.5h7M529 285.5h58M356 286.5h7M525 286.5h59M357 287.5h7M522 287.5h59M359 288.5h7M520 288.5h42M360 289.5h7M517 289.5h26M361 290.5h8M514 290.5h26M363 291.5h8M511 291.5h25M364 292.5h9M509 292.5h24M366 293.5h10M506 293.5h24M367 294.5h12M503 294.5h24M369 295.5h14M501 295.5h23M371 296.5h14M499 296.5h22M374 297.5h14M497 297.5h21M377 298.5h14M495 298.5h21M380 299.5h14M493 299.5h20M382 300.5h15M491 300.5h20M385 301.5h14M489 301.5h19M388 302.5h15M487 302.5h19M390 303.5h16M486 303.5h18M393 304.5h19M484 304.5h18M396 305.5h22M483 305.5h17M400 306.5h24M481 306.5h18M403 307.5h27M479 307.5h17M407 308.5h28M477 308.5h17M413 309.5h27M450 309.5h42M418 310.5h72M424 311.5h64M428 312.5h57M433 313.5h50M438 314.5h42M450 315.5h28M475 316.5h1"/>
<path stroke="#ff8c00" d="M137 155.5h43M186 156.5h31M214 157.5h23M233 158.5h10M240 159.5h10M247 160.5h10M254 161.5h10M261 162.5h9M266 163.5h9M271 164.5h8M275 165.5h8M280 166.5h8M284 167.5h8M288 168.5h8M293 169.5h7M297 170.5h7M301 171.5h5M304 172.5h4M306 173.5h5M309 174.5h4M311 175.5h5M314 176.5h4M317 177.5h4M320 178.5h5M323 179.5h5M326 180.5h5M329 181.5h6M333 182.5h5M336 183.5h4M339 184.5h4M341 185.5h4M344 186.5h4M346 187.5h5M349 188.5h5M351 189.5h6M355 190.5h5M358 191.5h6M362 192.5h7M367 193.5h6M370 194.5h6M374 195.5h5M377 196.5h6M380 197.5h6M383 198.5h7M387 199.5h6M390 200.5h7M394 201.5h7M398 202.5h8M401 203.5h8M404 204.5h9M407 205.5h10M410 206.5h10M414 207.5h10M417 208.5h10M421 209.5h10M425 210.5h10M429 211.5h10M432 212.5h10M433 213.5h10M435 214.5h10M437 215.5h9M437 216.5h9M434 217.5h10M431 218.5h11M428 219.5h11M425 220.5h11M421 221.5h12M417 222.5h13M413 223.5h13M408 224.5h14M405 225.5h12M403 226.5h9M401 227.5h5M400 228.5h5M399 229.5h5M397 230.5h5M396 231.5h5M395 232.5h5M394 233.5h4M393 234.5h4M392 235.5h4M390 236.5h5M390 237.5h4M388 238.5h5M387 239.5h5M386 240.5h4M384 241.5h5M383 242.5h5M381 243.5h5M380 244.5h5M378 245.5h5M376 246.5h6M375 247.5h5M373 248.5h6M773 248.5h23M371 249.5h6M737 249.5h84M370 250.5h5M714 250.5h64M792 250.5h50M369 251.5h5M707 251.5h39M813 251.5h51M368 252.5h5M700 252.5h23M836 252.5h45M367 253.5h4M693 253.5h20M860 253.5h34M366 254.5h4M687 254.5h19M874 254.5h27M365 255.5h5M681 255.5h19M886 255.5h23M365 256.5h4M678 256.5h17M895 256.5h24M364 257.5h4M674 257.5h16M903 257.5h24M363 258.5h4M670 258.5h17M911 258.5h20M362 259.5h4M665 259.5h18M919 259.5h17M361 260.5h4M660 260.5h19M926 260.5h16M361 261.5h4M655 261.5h19M931 261.5h17M360 262.5h4M649 262.5h20M937 262.5h19M359 263.5h4M644 263.5h21M943 263.5h20M359 264.5h4M639 264.5h21M949 264.5h21M359 265.5h4M635 265.5h20M955 265.5h23M358 266.5h5M630 266.5h19M961 266.5h27M358 267.5h4M626 267.5h18M970 267.5h24M357 268.5h5M621 268.5h19M978 268.5h16M357 269.5h5M617 269.5h18M987 269.5h7M356 270.5h5M611 270.5h20M356 271.5h5M604 271.5h22M355 272.5h5M598 272.5h23M355 273.5h5M593 273.5h23M355 274.5h5M588 274.5h23M355 275.5h5M584 275.5h22M355 276.5h6M580 276.5h21M355 277.5h6M539 277.5h58M356 278.5h6M519 278.5h74M356 279.5h6M510 279.5h79M357 280.5h6M508 280.5h78M358 281.5h6M506 281.5h77M359 282.5h6M505 282.5h75M360 283.5h7M503 283.5h37M361 284.5h7M501 284.5h33M362 285.5h7M499 285.5h30M363 286.5h7M497 286.5h28M364 287.5h8M495 287.5h27M366 288.5h10M494 288.5h26M367 289.5h12M492 289.5h25M369 290.5h14M489 290.5h25M371 291.5h15M487 291.5h24M373 292.5h16M485 292.5h24M376 293.5h16M483 293.5h23M379 294.5h16M481 294.5h22M383 295.5h15M479 295.5h22M385 296.5h15M478 296.5h21M388 297.5h15M476 297.5h21M391 298.5h14M473 298.5h22M394 299.5h18M468 299.5h25M397 300.5h25M463 300.5h28M399 301.5h30M458 301.5h31M403 302.5h32M452 302.5h35M406 303.5h33M445 303.5h41M412 304.5h72M418 305.5h65M424 306.5h57M430 307.5h49M435 308.5h42M440 309.5h10"/>
<path stroke="#ff7300" d="M129 154.5h39M180 155.5h33M217 156.5h22M237 157.5h9M243 158.5h10M250 159.5h10M257 160.5h10M264 161.5h10M270 162.5h9M275 163.5h8M279 164.5h8M283 165.5h8M288 166.5h8M292 167.5h8M296 168.5h7M300 169.5h6M304 170.5h4M306 171.5h4M308 172.5h4M311 173.5h4M313 174.5h4M316 175.5h4M318 176.5h5M321 177.5h5M325 178.5h4M328 179.5h5M331 180.5h5M335 181.5h5M338 182.5h4M340 183.5h5M343 184.5h4M345 185.5h5M348 186.5h5M351 187.5h5M354 188.5h5M357 189.5h5M360 190.5h6M364 191.5h7M369 192.5h6M373 193.5h5M376 194.5h6M379 195.5h6M383 196.5h6M386 197.5h6M390 198.5h6M393 199.5h7M397 200.5h7M401 201.5h8M406 202.5h9M409 203.5h9M413 204.5h9M417 205.5h9M420 206.5h10M424 207.5h10M427 208.5h11M431 209.5h10M435 210.5h9M439 211.5h8M442 212.5h7M443 213.5h8M445 214.5h8M446 215.5h9M446 216.5h10M444 217.5h11M442 218.5h12M439 219.5h13M436 220.5h15M433 221.5h15M430 222.5h14M426 223.5h13M422 224.5h14M417 225.5h15M412 226.5h16M406 227.5h17M405 228.5h14M404 229.5h10M402 230.5h7M401 231.5h5M400 232.5h4M398 233.5h5M397 234.5h5M396 235.5h5M395 236.5h4M394 237.5h4M393 238.5h4M392 239.5h4M390 240.5h5M389 241.5h5M388 242.5h5M386 243.5h5M385 244.5h5M383 245.5h6M382 246.5h5M380 247.5h6M748 247.5h62M379 248.5h6M714 248.5h59M796 248.5h40M377 249.5h6M703 249.5h34M821 249.5h40M375 250.5h7M695 250.5h19M842 250.5h40M374 251.5h7M688 251.5h19M864 251.5h31M373 252.5h7M681 252.5h19M881 252.5h23M371 253.5h8M676 253.5h17M894 253.5h19M370 254.5h7M671 254.5h16M901 254.5h20M370 255.5h6M666 255.5h15M909 255.5h20M369 256.5h5M662 256.5h16M919 256.5h16M368 257.5h4M658 257.5h16M927 257.5h13M367 258.5h4M653 258.5h17M931 258.5h14M366 259.5h4M647 259.5h18M936 259.5h15M365 260.5h4M641 260.5h19M942 260.5h16M365 261.5h4M635 261.5h20M948 261.5h18M364 262.5h4M630 262.5h19M956 262.5h19M363 263.5h5M625 263.5h19M963 263.5h20M363 264.5h4M621 264.5h18M970 264.5h22M363 265.5h4M616 265.5h19M978 265.5h16M363 266.5h4M510 266.5h1M610 266.5h20M988 266.5h6M362 267.5h5M508 267.5h7M602 267.5h24M362 268.5h4M505 268.5h15M594 268.5h27M362 269.5h4M503 269.5h22M587 269.5h30M361 270.5h5M501 270.5h30M582 270.5h29M361 271.5h5M499 271.5h41M559 271.5h45M360 272.5h5M497 272.5h101M360 273.5h5M495 273.5h98M360 274.5h5M493 274.5h95M360 275.5h5M491 275.5h93M361 276.5h5M489 276.5h91M361 277.5h6M487 277.5h52M362 278.5h6M485 278.5h34M362 279.5h7M483 279.5h27M363 280.5h7M482 280.5h26M364 281.5h7M480 281.5h26M365 282.5h8M478 282.5h27M367 283.5h10M476 283.5h27M368 284.5h13M475 284.5h26M369 285.5h15M473 285.5h26M370 286.5h18M470 286.5h27M372 287.5h19M468 287.5h27M376 288.5h18M465 288.5h29M379 289.5h19M462 289.5h30M383 290.5h18M459 290.5h30M386 291.5h17M456 291.5h31M389 292.5h17M452 292.5h33M392 293.5h30M448 293.5h35M395 294.5h40M443 294.5h38M398 295.5h81M400 296.5h78M403 297.5h73M405 298.5h68M412 299.5h56M422 300.5h41M429 301.5h29M435 302.5h17M439 303.5h6"/>
<path stroke="#ff5900" d="M129 153.5h17M168 154.5h26M213 155.5h27M239 156.5h10M246 157.5h10M253 158.5h10M260 159.5h10M267 160.5h10M274 161.5h8M279 162.5h8M283 163.5h8M287 164.5h8M291 165.5h8M296 166.5h7M300 167.5h5M303 168.5h4M306 169.5h4M308 170.5h4M310 171.5h4M312 172.5h4M315 173.5h4M317 174.5h5M320 175.5h4M323 176.5h4M326 177.5h4M329 178.5h5M333 179.5h4M336 180.5h4M340 181.5h3M342 182.5h4M345 183.5h4M347 184.5h5M350 185.5h4M353 186.5h4M356 187.5h4M359 188.5h5M362 189.5h6M366 190.5h6M371 191.5h5M375 192.5h5M378 193.5h6M382 194.5h5M385 195.5h6M389 196.5h6M392 197.5h6M396 198.5h6M400 199.5h6M404 200.5h8M409 201.5h9M415 202.5h8M418 203.5h9M422 204.5h10M426 205.5h10M430 206.5h10M434 207.5h9M438 208.5h8M441 209.5h7M444 210.5h7M447 211.5h7M449 212.5h8M451 213.5h8M453 214.5h9M455 215.5h9M456 216.5h9M455 217.5h10M454 218.5h12M452 219.5h14M451 220.5h16M448 221.5h20M444 222.5h23M439 223.5h25M436 224.5h24M432 225.5h22M428 226.5h19M423 227.5h17M419 228.5h17M414 229.5h17M409 230.5h18M406 231.5h17M404 232.5h14M403 233.5h10M402 234.5h5M401 235.5h4M399 236.5h5M398 237.5h5M397 238.5h5M396 239.5h5M395 240.5h5M394 241.5h5M393 242.5h5M391 243.5h5M390 244.5h5M389 245.5h5M768 245.5h27M387 246.5h6M716 246.5h105M386 247.5h5M701 247.5h47M810 247.5h43M385 248.5h6M690 248.5h24M836 248.5h44M383 249.5h7M682 249.5h21M861 249.5h34M382 250.5h7M677 250.5h18M882 250.5h23M381 251.5h7M671 251.5h17M895 251.5h19M380 252.5h7M666 252.5h15M904 252.5h19M379 253.5h7M661 253.5h15M913 253.5h17M377 254.5h8M656 254.5h15M921 254.5h15M376 255.5h8M509 255.5h2M651 255.5h15M929 255.5h13M374 256.5h9M507 256.5h7M646 256.5h16M935 256.5h13M372 257.5h10M505 257.5h11M639 257.5h19M940 257.5h13M371 258.5h9M503 258.5h16M632 258.5h21M945 258.5h14M370 259.5h8M501 259.5h21M626 259.5h21M951 259.5h17M369 260.5h7M499 260.5h27M620 260.5h21M958 260.5h18M369 261.5h5M497 261.5h32M615 261.5h20M966 261.5h19M368 262.5h4M495 262.5h38M606 262.5h24M975 262.5h19M368 263.5h4M493 263.5h44M596 263.5h29M983 263.5h11M367 264.5h4M491 264.5h51M587 264.5h34M992 264.5h2M367 265.5h4M489 265.5h127M367 266.5h4M487 266.5h23M511 266.5h99M367 267.5h4M484 267.5h24M515 267.5h87M366 268.5h5M482 268.5h23M520 268.5h74M366 269.5h5M479 269.5h24M525 269.5h62M366 270.5h5M477 270.5h24M531 270.5h51M366 271.5h5M474 271.5h25M540 271.5h19M365 272.5h5M472 272.5h25M365 273.5h5M470 273.5h25M365 274.5h5M468 274.5h25M365 275.5h5M466 275.5h25M366 276.5h5M464 276.5h25M367 277.5h8M463 277.5h24M368 278.5h12M461 278.5h24M369 279.5h15M458 279.5h25M370 280.5h18M456 280.5h26M371 281.5h20M454 281.5h26M373 282.5h22M451 282.5h27M377 283.5h21M449 283.5h27M381 284.5h20M446 284.5h29M384 285.5h20M443 285.5h30M388 286.5h82M391 287.5h77M394 288.5h71M398 289.5h64M401 290.5h58M403 291.5h53M406 292.5h46M422 293.5h26M435 294.5h8"/>
<path stroke="#ff4000" d="M129 152.5h3M146 153.5h33M194 154.5h48M240 155.5h11M249 156.5h10M256 157.5h10M263 158.5h11M270 159.5h10M277 160.5h9M282 161.5h9M287 162.5h8M291 163.5h8M295 164.5h8M299 165.5h6M303 166.5h4M305 167.5h4M307 168.5h5M310 169.5h4M312 170.5h4M314 171.5h4M316 172.5h5M319 173.5h4M322 174.5h4M324 175.5h5M327 176.5h5M330 177.5h5M334 178.5h4M337 179.5h4M340 180.5h4M343 181.5h4M346 182.5h4M349 183.5h4M352 184.5h4M354 185.5h5M357 186.5h5M360 187.5h5M364 188.5h5M368 189.5h5M372 190.5h5M376 191.5h5M380 192.5h5M384 193.5h5M387 194.5h6M391 195.5h6M395 196.5h5M398 197.5h6M402 198.5h7M406 199.5h10M412 200.5h9M418 201.5h9M423 202.5h9M427 203.5h9M432 204.5h9M436 205.5h8M440 206.5h7M443 207.5h7M446 208.5h7M448 209.5h8M451 210.5h8M454 211.5h8M457 212.5h7M459 213.5h8M462 214.5h9M464 215.5h9M465 216.5h9M465 217.5h11M466 218.5h10M466 219.5h11M467 220.5h11M468 221.5h11M467 222.5h12M464 223.5h15M460 224.5h18M454 225.5h24M447 226.5h31M440 227.5h37M436 228.5h41M431 229.5h45M427 230.5h46M423 231.5h32M418 232.5h20M413 233.5h21M407 234.5h22M405 235.5h19M404 236.5h14M403 237.5h9M402 238.5h5M401 239.5h5M400 240.5h5M399 241.5h5M398 242.5h5M396 243.5h5M507 243.5h4M395 244.5h5M500 244.5h12M726 244.5h82M394 245.5h5M498 245.5h15M702 245.5h66M795 245.5h47M393 246.5h5M496 246.5h19M687 246.5h29M821 246.5h55M391 247.5h6M494 247.5h22M677 247.5h24M853 247.5h43M391 248.5h5M493 248.5h25M671 248.5h19M880 248.5h25M390 249.5h6M491 249.5h28M666 249.5h16M895 249.5h19M389 250.5h6M490 250.5h31M661 250.5h16M905 250.5h19M388 251.5h7M490 251.5h33M655 251.5h16M914 251.5h16M387 252.5h7M489 252.5h37M650 252.5h16M923 252.5h14M386 253.5h8M488 253.5h40M644 253.5h17M930 253.5h13M385 254.5h8M487 254.5h44M637 254.5h19M936 254.5h13M384 255.5h8M486 255.5h23M511 255.5h24M631 255.5h20M942 255.5h13M383 256.5h9M484 256.5h23M514 256.5h26M624 256.5h22M948 256.5h13M382 257.5h9M482 257.5h23M516 257.5h29M617 257.5h22M953 257.5h16M380 258.5h10M480 258.5h23M519 258.5h36M602 258.5h30M959 258.5h19M378 259.5h11M478 259.5h23M522 259.5h47M586 259.5h40M968 259.5h19M376 260.5h12M476 260.5h23M526 260.5h94M976 260.5h18M374 261.5h12M475 261.5h22M529 261.5h86M985 261.5h9M372 262.5h13M473 262.5h22M533 262.5h73M372 263.5h12M472 263.5h21M537 263.5h59M371 264.5h13M470 264.5h21M542 264.5h45M371 265.5h13M468 265.5h21M371 266.5h14M466 266.5h21M371 267.5h14M464 267.5h20M371 268.5h14M462 268.5h20M371 269.5h15M459 269.5h20M371 270.5h15M457 270.5h20M371 271.5h16M454 271.5h20M370 272.5h18M452 272.5h20M370 273.5h19M449 273.5h21M370 274.5h20M447 274.5h21M370 275.5h23M445 275.5h21M371 276.5h26M442 276.5h22M375 277.5h26M433 277.5h30M380 278.5h25M416 278.5h45M384 279.5h74M388 280.5h68M391 281.5h63M395 282.5h56M398 283.5h51M401 284.5h45M404 285.5h39"/>
<path stroke="#ff2600" d="M132 152.5h27M179 153.5h65M242 154.5h11M251 155.5h10M259 156.5h10M266 157.5h12M274 158.5h11M280 159.5h10M286 160.5h9M291 161.5h9M295 162.5h8M299 163.5h6M303 164.5h4M305 165.5h4M307 166.5h4M309 167.5h4M312 168.5h4M314 169.5h4M316 170.5h4M318 171.5h4M321 172.5h4M323 173.5h4M326 174.5h4M329 175.5h4M332 176.5h4M335 177.5h4M338 178.5h4M341 179.5h4M344 180.5h4M347 181.5h4M350 182.5h4M353 183.5h4M356 184.5h4M359 185.5h4M362 186.5h4M365 187.5h5M369 188.5h5M373 189.5h5M377 190.5h5M381 191.5h5M385 192.5h5M389 193.5h5M393 194.5h5M397 195.5h5M400 196.5h6M404 197.5h8M409 198.5h10M416 199.5h9M421 200.5h9M427 201.5h9M432 202.5h8M436 203.5h8M441 204.5h6M444 205.5h6M447 206.5h6M450 207.5h7M453 208.5h7M456 209.5h7M459 210.5h7M462 211.5h7M464 212.5h8M467 213.5h8M471 214.5h7M473 215.5h6M474 216.5h6M476 217.5h5M476 218.5h5M477 219.5h5M478 220.5h5M479 221.5h5M479 222.5h5M479 223.5h5M478 224.5h6M478 225.5h6M478 226.5h6M477 227.5h7M477 228.5h8M476 229.5h9M473 230.5h12M455 231.5h31M438 232.5h49M434 233.5h54M429 234.5h61M424 235.5h68M418 236.5h76M412 237.5h26M446 237.5h51M407 238.5h26M452 238.5h51M406 239.5h22M457 239.5h54M405 240.5h18M460 240.5h53M404 241.5h14M463 241.5h53M403 242.5h10M464 242.5h54M768 242.5h22M401 243.5h6M464 243.5h43M511 243.5h10M703 243.5h118M400 244.5h5M464 244.5h36M512 244.5h11M685 244.5h41M808 244.5h62M399 245.5h5M464 245.5h34M513 245.5h12M676 245.5h26M842 245.5h53M398 246.5h5M464 246.5h32M515 246.5h13M668 246.5h19M876 246.5h30M397 247.5h6M464 247.5h30M516 247.5h14M660 247.5h17M896 247.5h19M396 248.5h6M464 248.5h29M518 248.5h15M655 248.5h16M905 248.5h19M396 249.5h6M464 249.5h27M519 249.5h16M649 249.5h17M914 249.5h16M395 250.5h7M464 250.5h26M521 250.5h17M643 250.5h18M924 250.5h11M395 251.5h7M464 251.5h26M523 251.5h18M637 251.5h18M930 251.5h12M394 252.5h7M464 252.5h25M526 252.5h19M629 252.5h21M937 252.5h13M394 253.5h7M464 253.5h24M528 253.5h27M622 253.5h22M943 253.5h13M393 254.5h8M464 254.5h23M531 254.5h36M615 254.5h22M949 254.5h13M392 255.5h9M463 255.5h23M535 255.5h96M955 255.5h15M392 256.5h8M462 256.5h22M540 256.5h84M961 256.5h19M391 257.5h9M461 257.5h21M545 257.5h72M969 257.5h19M390 258.5h10M460 258.5h20M555 258.5h47M978 258.5h16M389 259.5h10M459 259.5h19M569 259.5h17M987 259.5h7M388 260.5h11M459 260.5h17M386 261.5h12M458 261.5h17M385 262.5h13M457 262.5h16M384 263.5h14M455 263.5h17M384 264.5h13M453 264.5h17M384 265.5h14M450 265.5h18M385 266.5h14M448 266.5h18M385 267.5h15M445 267.5h19M385 268.5h17M443 268.5h19M386 269.5h17M434 269.5h25M386 270.5h19M414 270.5h43M387 271.5h67M388 272.5h64M389 273.5h60M390 274.5h57M393 275.5h52M397 276.5h45M401 277.5h32M405 278.5h11"/>
<path stroke="#ff0d00" d="M129 151.5h14M159 152.5h34M204 152.5h43M244 153.5h13M253 154.5h12M261 155.5h13M269 156.5h14M278 157.5h12M285 158.5h11M290 159.5h11M295 160.5h8M300 161.5h5M303 162.5h4M305 163.5h4M307 164.5h4M309 165.5h4M311 166.5h4M313 167.5h5M316 168.5h4M318 169.5h4M320 170.5h4M322 171.5h4M325 172.5h4M327 173.5h5M330 174.5h4M333 175.5h4M336 176.5h4M339 177.5h4M342 178.5h4M345 179.5h4M348 180.5h4M351 181.5h4M354 182.5h4M357 183.5h5M360 184.5h5M363 185.5h5M366 186.5h5M370 187.5h5M374 188.5h5M378 189.5h5M382 190.5h5M386 191.5h5M390 192.5h6M394 193.5h6M398 194.5h6M402 195.5h7M406 196.5h9M412 197.5h9M419 198.5h9M425 199.5h9M430 200.5h9M436 201.5h7M440 202.5h6M444 203.5h6M447 204.5h6M450 205.5h7M453 206.5h7M457 207.5h7M460 208.5h7M463 209.5h7M466 210.5h7M469 211.5h7M472 212.5h6M475 213.5h5M478 214.5h4M479 215.5h5M480 216.5h5M481 217.5h4M481 218.5h5M482 219.5h5M483 220.5h5M484 221.5h5M484 222.5h6M484 223.5h6M484 224.5h6M484 225.5h7M484 226.5h7M484 227.5h8M485 228.5h8M485 229.5h9M485 230.5h10M486 231.5h11M487 232.5h13M488 233.5h15M490 234.5h17M492 235.5h19M494 236.5h19M438 237.5h8M497 237.5h19M433 238.5h19M503 238.5h15M428 239.5h29M511 239.5h10M423 240.5h37M513 240.5h10M418 241.5h45M516 241.5h10M709 241.5h91M413 242.5h51M518 242.5h11M683 242.5h85M790 242.5h66M407 243.5h57M521 243.5h11M674 243.5h29M821 243.5h73M405 244.5h59M523 244.5h11M665 244.5h20M870 244.5h32M404 245.5h60M525 245.5h12M657 245.5h19M895 245.5h17M403 246.5h61M528 246.5h13M650 246.5h18M906 246.5h19M403 247.5h61M530 247.5h15M643 247.5h17M915 247.5h14M402 248.5h62M533 248.5h18M637 248.5h18M924 248.5h10M402 249.5h62M535 249.5h24M630 249.5h19M930 249.5h9M402 250.5h62M538 250.5h30M623 250.5h20M935 250.5h11M402 251.5h62M541 251.5h48M615 251.5h22M942 251.5h13M401 252.5h63M545 252.5h84M950 252.5h13M401 253.5h63M555 253.5h67M956 253.5h13M401 254.5h63M567 254.5h48M962 254.5h15M401 255.5h62M970 255.5h18M400 256.5h62M980 256.5h14M400 257.5h61M988 257.5h6M400 258.5h60M399 259.5h60M399 260.5h60M398 261.5h60M398 262.5h59M398 263.5h57M397 264.5h56M398 265.5h52M399 266.5h49M400 267.5h45M402 268.5h41M403 269.5h31M405 270.5h9"/>
<path stroke="#f30000" d="M143 151.5h20M214 151.5h36M193 152.5h11M247 152.5h14M257 153.5h13M265 154.5h16M274 155.5h16M283 156.5h14M290 157.5h13M296 158.5h8M301 159.5h5M303 160.5h4M305 161.5h4M307 162.5h4M309 163.5h4M311 164.5h4M313 165.5h4M315 166.5h5M318 167.5h4M320 168.5h4M322 169.5h4M324 170.5h4M326 171.5h5M329 172.5h4M332 173.5h4M334 174.5h4M337 175.5h4M340 176.5h4M343 177.5h4M346 178.5h4M349 179.5h4M352 180.5h4M355 181.5h4M358 182.5h4M362 183.5h4M365 184.5h4M368 185.5h4M371 186.5h5M375 187.5h5M379 188.5h5M383 189.5h5M387 190.5h5M391 191.5h5M396 192.5h5M400 193.5h5M404 194.5h7M409 195.5h8M415 196.5h9M421 197.5h9M428 198.5h9M434 199.5h8M439 200.5h7M443 201.5h6M446 202.5h6M450 203.5h6M453 204.5h6M457 205.5h6M460 206.5h7M464 207.5h7M467 208.5h7M470 209.5h7M473 210.5h6M476 211.5h5M478 212.5h5M480 213.5h5M482 214.5h5M484 215.5h5M485 216.5h4M485 217.5h5M486 218.5h5M487 219.5h5M488 220.5h5M489 221.5h5M490 222.5h5M490 223.5h6M490 224.5h7M491 225.5h6M491 226.5h7M492 227.5h7M493 228.5h8M494 229.5h9M495 230.5h10M497 231.5h11M500 232.5h11M503 233.5h11M507 234.5h10M511 235.5h9M513 236.5h9M516 237.5h9M518 238.5h9M521 239.5h9M523 240.5h10M701 240.5h96M526 241.5h10M678 241.5h31M800 241.5h49M529 242.5h10M662 242.5h21M856 242.5h39M532 243.5h10M654 243.5h20M894 243.5h14M534 244.5h12M647 244.5h18M902 244.5h15M537 245.5h17M641 245.5h16M912 245.5h15M541 246.5h24M634 246.5h16M925 246.5h8M545 247.5h28M625 247.5h18M929 247.5h8M551 248.5h38M619 248.5h18M934 248.5h9M559 249.5h71M939 249.5h10M568 250.5h55M946 250.5h11M589 251.5h26M955 251.5h12M963 252.5h11M969 253.5h13M977 254.5h15M988 255.5h6"/>
<path stroke="#dc0000" d="M129 150.5h16M224 150.5h25M163 151.5h51M250 151.5h17M261 152.5h18M270 153.5h20M281 154.5h19M290 155.5h13M297 156.5h8M303 157.5h3M304 158.5h4M306 159.5h4M307 160.5h4M309 161.5h4M311 162.5h4M313 163.5h4M315 164.5h4M317 165.5h4M320 166.5h4M322 167.5h4M324 168.5h4M326 169.5h4M328 170.5h4M331 171.5h4M333 172.5h4M336 173.5h3M338 174.5h4M341 175.5h3M344 176.5h3M347 177.5h3M350 178.5h3M353 179.5h4M356 180.5h4M359 181.5h4M362 182.5h4M366 183.5h4M369 184.5h4M372 185.5h5M376 186.5h5M380 187.5h5M384 188.5h5M388 189.5h5M392 190.5h5M396 191.5h6M401 192.5h5M405 193.5h8M411 194.5h8M417 195.5h9M424 196.5h8M430 197.5h9M437 198.5h7M442 199.5h6M446 200.5h5M449 201.5h6M452 202.5h6M456 203.5h6M459 204.5h6M463 205.5h6M467 206.5h6M471 207.5h6M474 208.5h6M477 209.5h5M479 210.5h5M481 211.5h6M483 212.5h5M485 213.5h5M487 214.5h5M489 215.5h4M489 216.5h5M490 217.5h5M491 218.5h5M492 219.5h5M493 220.5h6M494 221.5h6M495 222.5h6M496 223.5h6M497 224.5h6M497 225.5h7M498 226.5h7M499 227.5h8M501 228.5h8M503 229.5h8M505 230.5h9M508 231.5h9M511 232.5h9M514 233.5h9M517 234.5h8M520 235.5h8M522 236.5h9M525 237.5h9M527 238.5h10M530 239.5h10M696 239.5h72M533 240.5h10M672 240.5h29M797 240.5h45M536 241.5h10M656 241.5h22M849 241.5h37M539 242.5h12M645 242.5h17M895 242.5h15M542 243.5h15M640 243.5h14M908 243.5h13M546 244.5h20M634 244.5h13M917 244.5h12M554 245.5h25M628 245.5h13M927 245.5h7M565 246.5h35M619 246.5h15M933 246.5h7M573 247.5h52M937 247.5h9M589 248.5h30M943 248.5h9M949 249.5h10M957 250.5h12M967 251.5h11M974 252.5h12M982 253.5h12M992 254.5h2"/>
<path stroke="#c50000" d="M231 149.5h10M145 150.5h17M207 150.5h17M249 150.5h25M267 151.5h21M279 152.5h21M290 153.5h14M300 154.5h6M303 155.5h4M305 156.5h4M306 157.5h4M308 158.5h4M310 159.5h4M311 160.5h4M313 161.5h4M315 162.5h4M317 163.5h4M319 164.5h4M321 165.5h5M324 166.5h4M326 167.5h4M328 168.5h4M330 169.5h4M332 170.5h5M335 171.5h3M337 172.5h3M339 173.5h4M342 174.5h3M344 175.5h4M347 176.5h4M350 177.5h4M353 178.5h4M357 179.5h3M360 180.5h4M363 181.5h4M366 182.5h4M370 183.5h4M373 184.5h5M377 185.5h5M381 186.5h5M385 187.5h5M389 188.5h5M393 189.5h5M397 190.5h5M402 191.5h5M406 192.5h8M413 193.5h8M419 194.5h9M426 195.5h8M432 196.5h9M439 197.5h6M444 198.5h6M448 199.5h5M451 200.5h6M455 201.5h5M458 202.5h6M462 203.5h6M465 204.5h6M469 205.5h6M473 206.5h7M477 207.5h6M480 208.5h6M482 209.5h6M484 210.5h6M487 211.5h5M488 212.5h6M490 213.5h5M492 214.5h5M493 215.5h5M494 216.5h5M495 217.5h5M496 218.5h5M497 219.5h6M499 220.5h5M500 221.5h5M501 222.5h5M502 223.5h5M503 224.5h6M504 225.5h6M505 226.5h7M507 227.5h7M509 228.5h8M511 229.5h9M514 230.5h8M517 231.5h8M520 232.5h8M523 233.5h8M525 234.5h9M528 235.5h9M531 236.5h9M534 237.5h9M537 238.5h9M688 238.5h57M540 239.5h10M665 239.5h31M768 239.5h67M543 240.5h11M649 240.5h23M842 240.5h34M546 241.5h13M642 241.5h14M886 241.5h22M551 242.5h14M635 242.5h10M910 242.5h14M557 243.5h17M629 243.5h11M921 243.5h9M566 244.5h25M622 244.5h12M929 244.5h7M579 245.5h49M934 245.5h8M600 246.5h19M940 246.5h8M946 247.5h8M952 248.5h9M959 249.5h12M969 250.5h11M978 251.5h11M986 252.5h8"/>
<path stroke="#ae0000" d="M129 149.5h15M216 149.5h15M241 149.5h41M162 150.5h45M274 150.5h24M288 151.5h16M300 152.5h6M304 153.5h4M306 154.5h3M307 155.5h4M309 156.5h3M310 157.5h4M312 158.5h4M314 159.5h3M315 160.5h4M317 161.5h4M319 162.5h4M321 163.5h4M323 164.5h5M326 165.5h4M328 166.5h4M330 167.5h4M332 168.5h4M334 169.5h4M337 170.5h3M338 171.5h4M340 172.5h4M343 173.5h3M345 174.5h4M348 175.5h4M351 176.5h4M354 177.5h4M357 178.5h4M360 179.5h4M364 180.5h3M367 181.5h4M370 182.5h5M374 183.5h5M378 184.5h5M382 185.5h5M386 186.5h5M390 187.5h5M394 188.5h5M398 189.5h5M402 190.5h6M407 191.5h8M414 192.5h8M421 193.5h8M428 194.5h8M434 195.5h8M441 196.5h6M445 197.5h6M450 198.5h5M453 199.5h6M457 200.5h5M460 201.5h6M464 202.5h6M468 203.5h6M471 204.5h7M475 205.5h7M480 206.5h6M483 207.5h6M486 208.5h5M488 209.5h5M490 210.5h5M492 211.5h5M494 212.5h5M495 213.5h5M497 214.5h5M498 215.5h5M499 216.5h5M500 217.5h5M501 218.5h5M503 219.5h5M504 220.5h5M505 221.5h5M506 222.5h6M507 223.5h7M509 224.5h7M510 225.5h8M512 226.5h8M514 227.5h8M517 228.5h8M520 229.5h8M522 230.5h9M525 231.5h9M528 232.5h8M531 233.5h8M534 234.5h8M537 235.5h8M540 236.5h8M543 237.5h8M678 237.5h59M546 238.5h9M658 238.5h30M745 238.5h83M550 239.5h9M645 239.5h20M835 239.5h35M554 240.5h11M638 240.5h11M876 240.5h29M559 241.5h12M631 241.5h11M908 241.5h18M565 242.5h14M624 242.5h11M924 242.5h8M574 243.5h28M618 243.5h11M930 243.5h8M591 244.5h31M936 244.5h7M942 245.5h7M948 246.5h7M954 247.5h9M961 248.5h12M971 249.5h12M980 250.5h12M989 251.5h5"/>
<path stroke="#970000" d="M224 148.5h69M144 149.5h17M201 149.5h15M282 149.5h21M298 150.5h7M304 151.5h3M306 152.5h3M308 153.5h3M309 154.5h4M311 155.5h3M312 156.5h4M314 157.5h4M316 158.5h4M317 159.5h4M319 160.5h4M321 161.5h4M323 162.5h4M325 163.5h5M328 164.5h4M330 165.5h4M332 166.5h4M334 167.5h4M336 168.5h3M338 169.5h3M340 170.5h3M342 171.5h3M344 172.5h3M346 173.5h4M349 174.5h3M352 175.5h3M355 176.5h3M358 177.5h3M361 178.5h4M364 179.5h4M367 180.5h4M371 181.5h5M375 182.5h5M379 183.5h5M383 184.5h5M387 185.5h5M391 186.5h5M395 187.5h5M399 188.5h5M403 189.5h7M408 190.5h9M415 191.5h9M422 192.5h9M429 193.5h9M436 194.5h7M442 195.5h6M447 196.5h5M451 197.5h6M455 198.5h6M459 199.5h5M462 200.5h6M466 201.5h6M470 202.5h5M474 203.5h7M478 204.5h7M482 205.5h7M486 206.5h6M489 207.5h6M491 208.5h6M493 209.5h6M495 210.5h6M497 211.5h5M499 212.5h5M500 213.5h5M502 214.5h4M503 215.5h5M504 216.5h5M505 217.5h5M506 218.5h6M508 219.5h6M509 220.5h6M510 221.5h7M512 222.5h7M514 223.5h7M516 224.5h7M518 225.5h8M520 226.5h8M522 227.5h8M525 228.5h8M528 229.5h8M531 230.5h8M534 231.5h8M536 232.5h9M539 233.5h8M542 234.5h8M545 235.5h7M548 236.5h8M670 236.5h63M551 237.5h9M649 237.5h29M737 237.5h50M555 238.5h9M642 238.5h16M828 238.5h38M559 239.5h10M635 239.5h10M870 239.5h21M565 240.5h11M628 240.5h10M905 240.5h23M571 241.5h20M621 241.5h10M926 241.5h7M579 242.5h45M932 242.5h7M602 243.5h16M938 243.5h7M943 244.5h8M949 245.5h8M955 246.5h10M963 247.5h12M973 248.5h12M983 249.5h11M992 250.5h2"/></g>
<rect x="129" y="162" width="1" height="298" fill="#0078ff"/><rect x="129" y="145" width="1" height="4" fill="#ff8000"/>
<g fill="none" stroke="#000" stroke-width="1.3" shape-rendering="crispEdges"><path d="M129 140.5L150 131L229 120L219.5 102.5L233 96L269 90.5L301.5 81L336.5 76L399 67.5L415 64"/><path d="M430 61L455 57.5"/><path d="M629.6 58.5L613.3 63.8L580.7 68.3L544 71.3L511.5 73.4L470.7 78.5L430 88.7L399 95.75L371.5 100L336.5 110L301.5 123L266.5 129.5L233 138L199 139.5L179 146L166.5 157.5L151.5 164L144 179L146.5 195.5L164 212.5L172 227L169 247L172.75 267.5L176.5 274L197.75 290L207.75 295L232.75 319L267.75 332.75L301.5 340L336.5 342L371.5 347.75L399 356.5L441.5 374L474 382.75L502.75 406L509 406.5L539 402L579 402.75L611.5 397.75L649 397L669 409L681.5 420L699 430L731.5 437.5L751.5 442.5L786.5 450L821.5 452L825.25 446.25L852 443.25L871.5 445L869 450.5L879 453"/><path d="M206.5 180L226.5 196L226 210L214 227L211.5 247L232.75 263.75L255 274L301.5 297L326 298.5"/><path d="M346.5 300L399 304.5L441.5 315.25L456.5 326.5L475.25 334L509 335.25L534 346.5L544 353.5L566.5 363.5L579 374.75L611.5 366.5L639 363.5L669 365.5L682.75 367.75L716.5 357.25L754 372.75L766.5 391.5L761 397.5"/><path d="M755 409L746.5 422.5L786.5 432L821.5 422.5L845 419.5L866 420L910 431.25L924 437L960 441.25L977.5 445.5L957.5 449.5L923.75 450L993.75 450.5"/><path d="M206.5 180L216.5 165L234 158.75L251.5 147.5L269 142.5L301.5 138L336.5 136L399 123.75L424 118"/><path d="M442 115L476.8 102.9L511.5 97.2L527.8 96.4L552.2 96.4L580.7 99.9L613.3 101.9L640 103.3L691.7 100L717.3 87.3L786.7 83.3L856.7 81.7L895 81.7L923.3 86.7L942 88.3"/><path d="M965 90.7L993.3 95.7"/><path d="M993.3 137.3L946.7 136L923.3 137.3L893.3 134L853.3 126.7L800 122.3L780 122.3L751.7 125L683.3 123.6L636.7 126.7L590 123.3L563.3 119.3L540 117.3L526.7 118.3L510 124L476.7 129.3L433.3 133.3L399 139.2L354 146L307.75 151L284 160L266.5 165.5L247.75 180.5L265 205L271 212.5L271 227.5L291.5 247.5L301.5 253.75L336.5 255L403.3 240.7L441.7 240.7L473.3 257L477 270L478.5 274L479 277.75L509 291L544 302.75L561.5 299L584 297.25L611.5 306L647.75 316L669 309.5L684 306.5L716.5 316.5L752.75 313.5L786.5 326.5L791.5 332.75L810 368.75L821.5 392.5L856.5 397.75L906 398.75L923.75 400L958.75 408.75L971.25 422L993.75 428"/><path d="M422.75 152L441.5 150L509 150L540 152.5L579 155L614 159.5L649 158.75L691.5 158.75L716.5 162L751.5 170L785.25 176.75L821.5 173.75L856.5 172.5L889 175L944 190"/><path d="M966 197.5L974 204L964.5 215.5L993.75 222"/><path d="M404 153L399 153.75L355 158L341.5 173L299 183.75L299 194L296 212.5L301.5 230.5L336.5 235.5L399 224.5L436.5 219.5L474 222L509 235L544 253L577.75 252.5L603 247.5"/><path d="M621 241.5L649 231.25L669 230.5L682.75 230.5L696.5 247.5L716.5 267L751.5 259.25L779 271.25L804 274L821.5 276L839 291.5L856.5 304L864 312.75L870.25 334L889 352.75L924 361.5L957.5 356.25L967.5 356.25L993.75 362"/><path d="M993.75 237.5L960 237L889.5 236.5L922.5 242L934.5 248.25L938.75 262L933.75 276.5L958.75 294.5L993.75 307"/><path d="M245 459.5L248 455"/><path d="M253 447L255 442.5L267.75 431L269 425L274 416L281.5 406L304 396L336.5 385.5L364 391L399 396L441.5 408L474 417.5L509 418L539 412.5L561.5 412.5L579 415L649 425L661 432"/><path d="M671.5 436.25L716.5 444.5L734 451.25L736 453.75"/><path d="M129 407.5L144 413.5"/><path d="M154 418L182.75 433L190 443L129 446"/></g><g fill="none" stroke="#000" stroke-width="1.2" stroke-dasharray="1.5 5.5"><path d="M129 71.25L164 59.5"/><path d="M129 97.5L161.5 91.25L196.5 72.5L234 68L269 65L314 58.75"/><path d="M309 457.5L311.5 451L336.5 438.75L366.5 425L399 420.75L441.5 424.5"/><path d="M359 448L374 440L399 436L404 435"/><path d="M365 453L399 453L411 453"/><path d="M414 435L420 435"/><path d="M439 435L484 435"/><path d="M474 427L484 427"/><path d="M503 426L509 426"/><path d="M503 434.5L514 434.5"/><path d="M519 424.5L524 424"/><path d="M531.5 435L549 436"/><path d="M539 422L544 421"/><path d="M561.5 424L589 430L619 438.75L649 448.75"/><path d="M574 435L584 435"/><path d="M436.5 453.75L446.5 453.75"/><path d="M469 450L476.5 449"/><path d="M491.5 452L504 451.25L539 446.25L579 441.25L586.5 438.75"/></g><g font-size="10.6" text-anchor="middle" style="fill:#000"><text transform="translate(422.5 62.5) rotate(-8)" y="4" style="fill:#000">0</text><text transform="translate(432.8 115.8) rotate(-12)" y="4" style="fill:#000">10</text><text transform="translate(413.5 151.8) rotate(-3)" y="4" style="fill:#000">20</text><text transform="translate(952.5 89.5) rotate(8)" y="4" style="fill:#000">10</text><text transform="translate(955.5 193) rotate(22)" y="4" style="fill:#000">20</text><text transform="translate(612 244) rotate(-14)" y="4" style="fill:#000">20</text><text transform="translate(336.5 299) rotate(3)" y="4" style="fill:#000">10</text><text transform="translate(758 403.5) rotate(-62)" y="4" style="fill:#000">10</text><text transform="translate(149.5 414.5) rotate(25)" y="4" style="fill:#000">0</text><text transform="translate(250.5 451.5) rotate(-60)" y="4" style="fill:#000">0</text><text transform="translate(666 434.5) rotate(30)" y="4" style="fill:#000">0</text><text transform="translate(402.5 435.5) rotate(0)" y="4" style="fill:#000">−10</text></g>
<path d="M129 57.5H995M994.5 57V461M129 460.5H995" stroke="#fff" stroke-width="1" fill="none" shape-rendering="crispEdges"/><path d="M164.5 460V459M198.5 460V459M233.5 460V459M267.5 460V459M302.5 460V459M337.5 460V459M371.5 460V459M406.5 460V459M440.5 460V459M475.5 460V456M510.5 460V456M544.5 460V456M579.5 460V456M613.5 460V456M648.5 460V456M683.5 460V456M717.5 460V456M752.5 460V456M786.5 460V456M821.5 460V456M856.5 460V456M890.5 460V456M925.5 460V456M959.5 460V456" stroke="#fff" stroke-width="1" fill="none" shape-rendering="crispEdges"/>
<rect x="129" y="501" width="869" height="6" fill="url(#cb)"/>
<rect x="129" y="500" width="866" height="1" fill="#fff"/>
<g class="t"><text class="e" font-size="16.2" xml:space="preserve"><tspan x="334.4" y="50" textLength="11" lengthAdjust="spacingAndGlyphs">O</tspan><tspan x="346.8" y="54.3" font-size="11.5">3</tspan> <tspan x="361.6" y="50" textLength="82" lengthAdjust="spacingAndGlyphs">Latitudinal</tspan> <tspan x="453" y="50" textLength="81.6" lengthAdjust="spacingAndGlyphs">Y−Section</tspan> <tspan x="544.6" y="50" textLength="37.8" lengthAdjust="spacingAndGlyphs">24hr</tspan> <tspan x="596" y="50" textLength="22.4" lengthAdjust="spacingAndGlyphs"> Fx</tspan> <tspan x="627.6" y="50" textLength="36" lengthAdjust="spacingAndGlyphs">Valid</tspan> <tspan x="676" y="50" textLength="26.4" lengthAdjust="spacingAndGlyphs">12Z</tspan> <tspan x="713.8" y="50" textLength="82" lengthAdjust="spacingAndGlyphs">20250908</tspan></text><text x="125.5" y="66" font-size="13.6" text-anchor="end">20</text><text x="125.5" y="162.7" font-size="13.6" text-anchor="end">15</text><text x="125.5" y="263.7" font-size="13.6" text-anchor="end">10</text><text x="125.5" y="364" font-size="13.6" text-anchor="end">5</text><text x="125.5" y="460.8" font-size="13.6" text-anchor="end">0</text><text x="129.5" y="479.3" font-size="13.8" text-anchor="middle">25</text><text x="302.5" y="479.3" font-size="13.8" text-anchor="middle">30</text><text x="475.5" y="479.3" font-size="13.8" text-anchor="middle">35</text><text x="648.5" y="479.3" font-size="13.8" text-anchor="middle">40</text><text x="821.5" y="479.3" font-size="13.8" text-anchor="middle">45</text><text x="994.5" y="479.3" font-size="13.8" text-anchor="middle">50</text><text x="562.1" y="494.2" font-size="13.4" text-anchor="middle" textLength="50.6" lengthAdjust="spacing">Latitude</text><text x="129.5" y="525" font-size="13.8" text-anchor="middle">0</text><text x="273.75" y="525" font-size="13.8" text-anchor="middle">20</text><text x="418.0" y="525" font-size="13.8" text-anchor="middle">40</text><text x="562.25" y="525" font-size="13.8" text-anchor="middle">60</text><text x="706.5" y="525" font-size="13.8" text-anchor="middle">80</text><text x="850.75" y="525" font-size="13.8" text-anchor="middle">100</text><text x="995.0" y="525" font-size="13.8" text-anchor="middle">120</text><text x="562" y="539.5" font-size="13.8" text-anchor="middle" textLength="41" lengthAdjust="spacing">(ppbv)</text><text transform="translate(96.9 259.8) rotate(-90)" font-size="13.3" text-anchor="middle" textLength="84" lengthAdjust="spacing">Altitude (km)</text><text class="e" font-size="20.2" xml:space="preserve"><tspan x="140" y="561.7" textLength="72.5" lengthAdjust="spacingAndGlyphs">Toronto</tspan> <tspan x="225.6" y="561.7" textLength="153.4" lengthAdjust="spacingAndGlyphs">(80°W)Initialized</tspan> <tspan x="392.6" y="561.7" textLength="33.4" lengthAdjust="spacingAndGlyphs">12Z</tspan> <tspan x="439.4" y="561.7" textLength="99" lengthAdjust="spacingAndGlyphs">20250907</tspan></text></g>
</svg>
</body></html>
